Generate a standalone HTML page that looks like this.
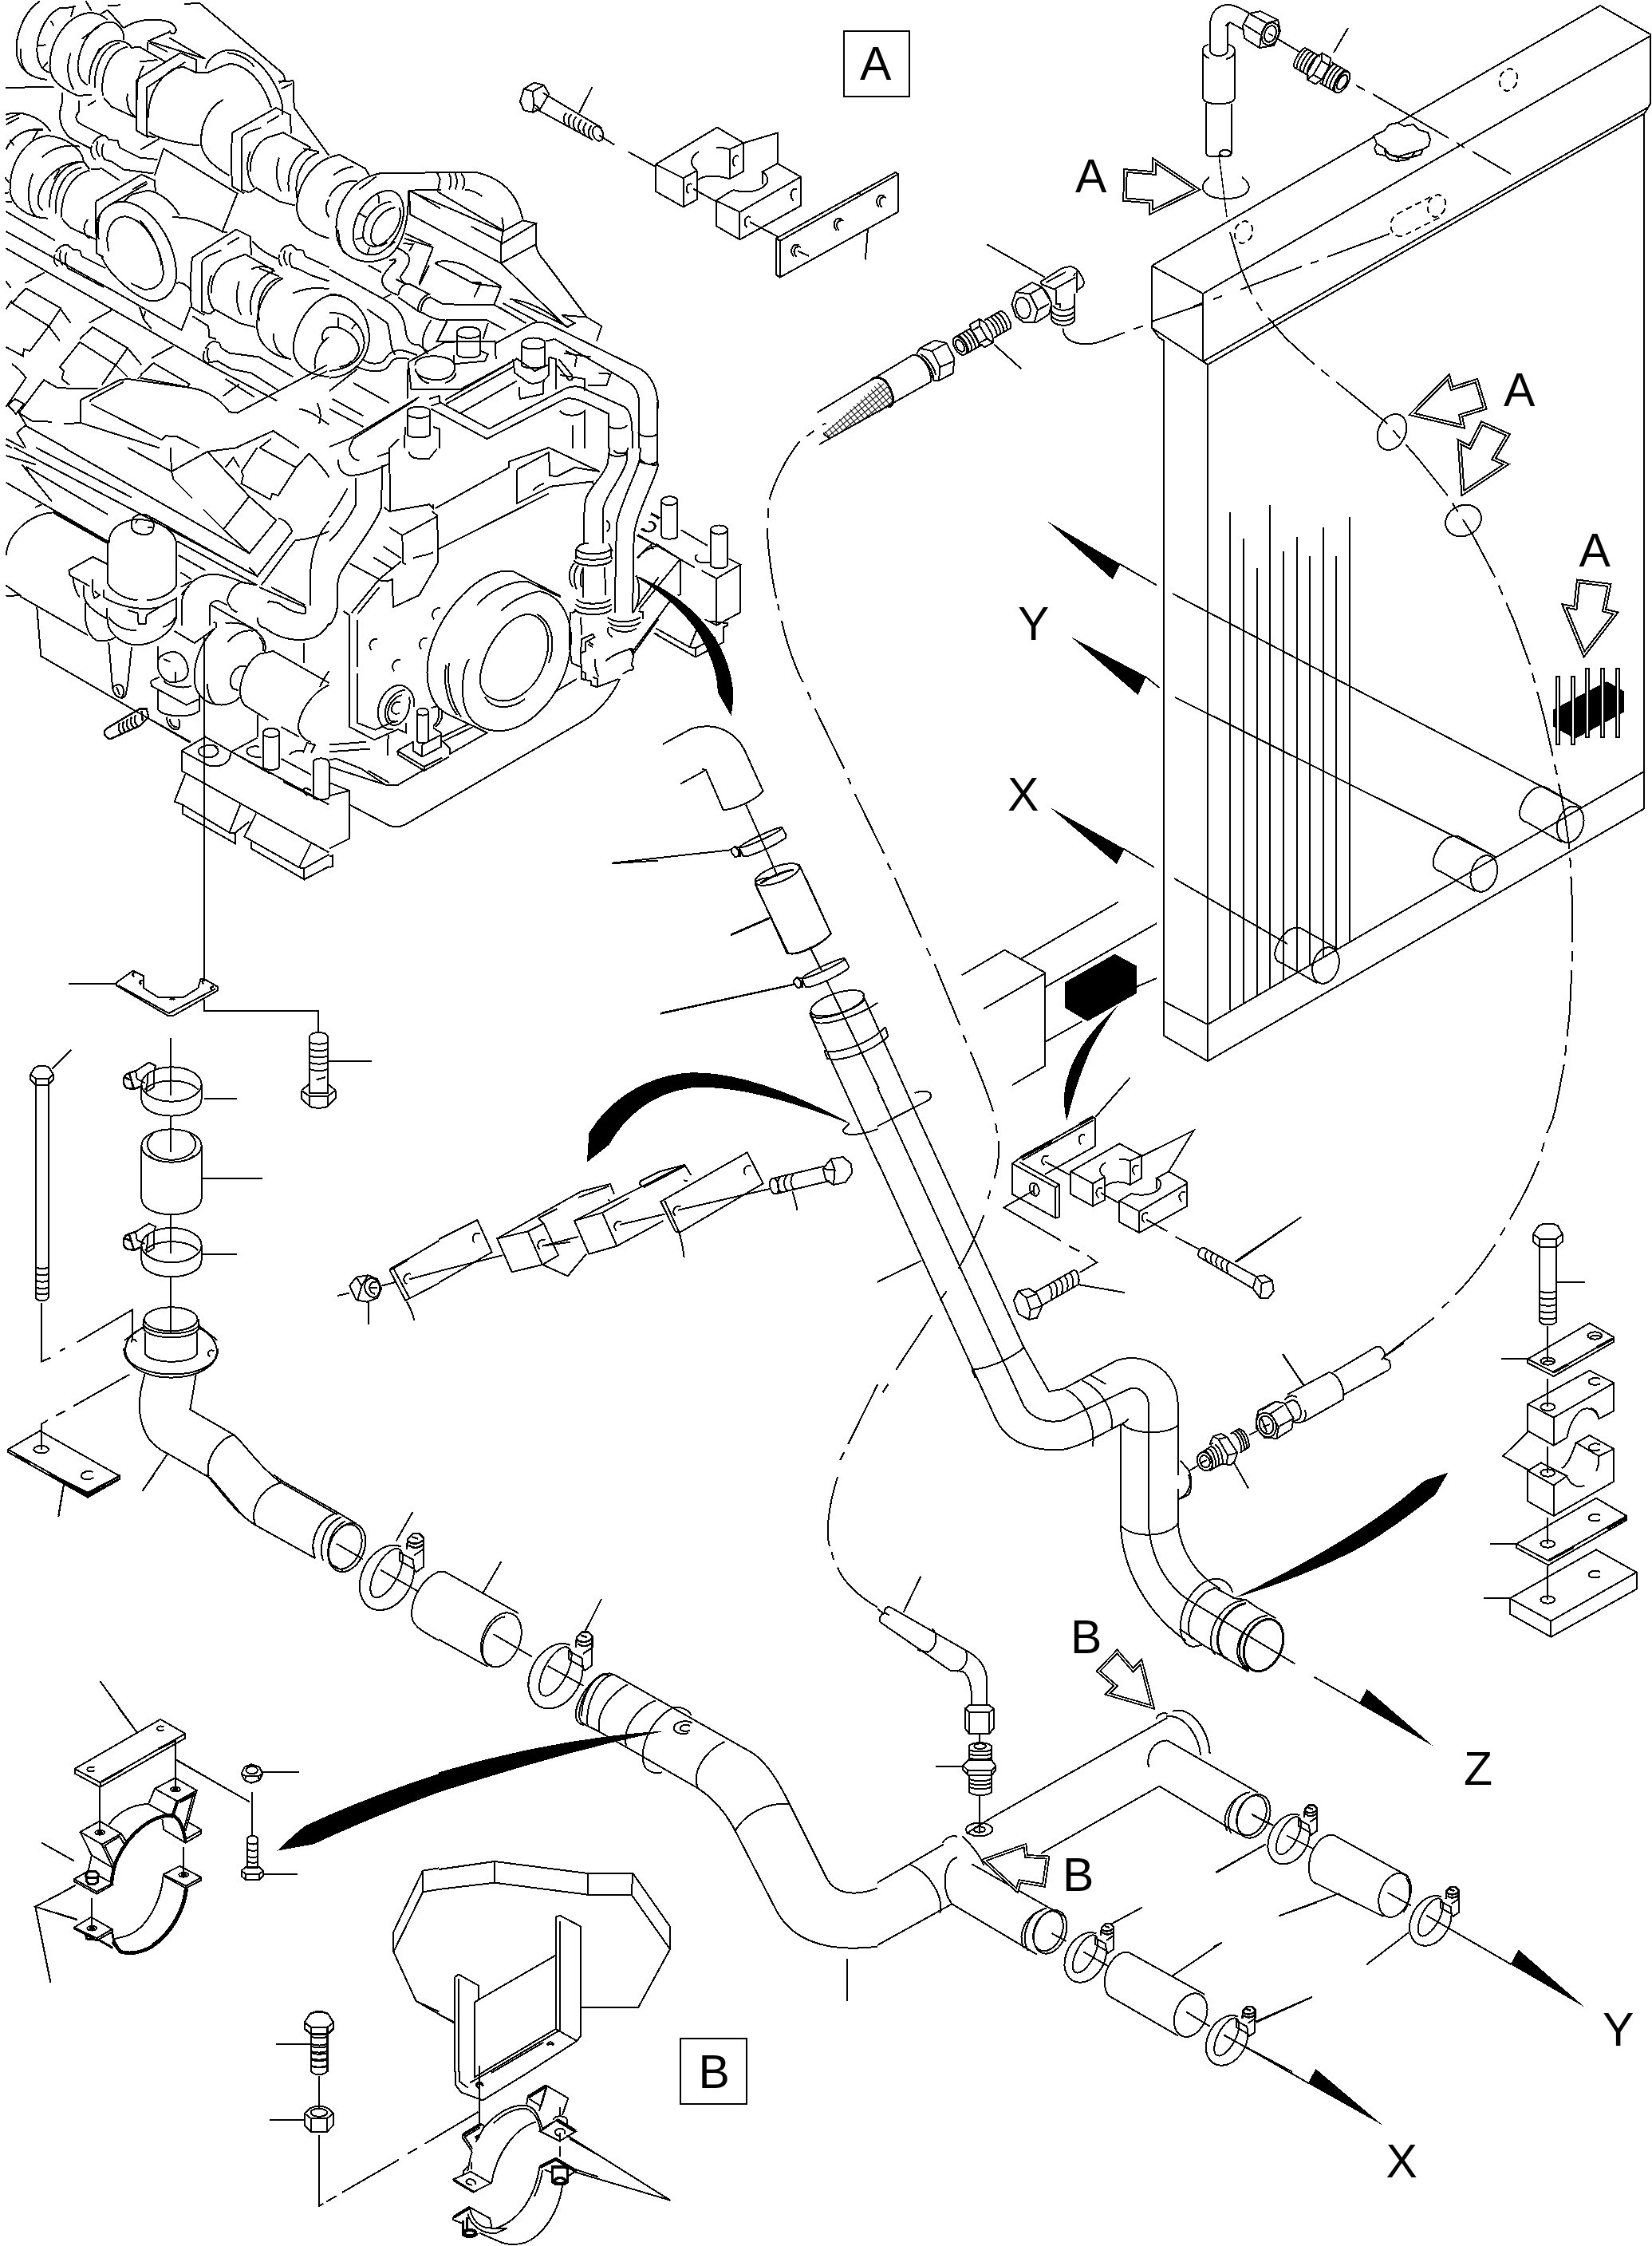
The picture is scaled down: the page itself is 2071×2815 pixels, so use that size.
<!DOCTYPE html>
<html><head><meta charset="utf-8"><title>Cooling piping diagram</title>
<style>
html,body{margin:0;padding:0;background:#fff;}
body{width:2071px;height:2815px;overflow:hidden;}
svg{display:block;shape-rendering:crispEdges;}
svg text{font-family:"Liberation Sans",sans-serif;fill:#000;stroke:none;}
svg path,svg ellipse,svg rect,svg circle,svg line,svg polyline,svg polygon{vector-effect:non-scaling-stroke;}
.l{fill:none;stroke:#000;stroke-width:2;stroke-linecap:butt;stroke-linejoin:miter;}
.w{fill:#fff;stroke:#000;stroke-width:2;}
.k{fill:#000;stroke:none;}
</style></head><body>
<svg width="2071" height="2815" viewBox="0 0 2071 2815" fill="none" stroke="#000" stroke-width="2">
<defs>
<g id="clampD">
<path d="M14.5 -24.5 A24 33 28 1 0 27 -2"/>
<ellipse cx="0.5" cy="1" rx="11" ry="26" transform="rotate(28 0.5 1)"/>
<path d="M13 -19 L26 -12 L27 -3 L13 -11 Z M27 -3 L29 0 L36 -5 V-22 L27 -16"/>
<path d="M20 -22 L21 -32 L26 -37 H32 L36 -33 V-22 M21 -30 C25 -26 32 -27 36 -31 M22 -26 C26 -22 32 -23 36 -27 M25 -34 L31 -32" stroke-width="2.4"/>
</g>
</defs>

<!-- ===== radiator ===== -->
<g id="radiator">
<!-- top tank -->
<path d="M1444 333 L2006 7 L2069 43 L2069 130 L2061 143 L2061 1013"/>
<path d="M1444 333 L1508 368 L2069 45"/>
<path d="M1508 368 L1508 453 L2067 134"/>
<path d="M1444 333 L1444 411 L1508 453"/>
<path d="M1444 411 L1453 423 L1459 427 L1459 1298 L1514 1330 L2062 1013"/>
<path d="M1508 453 L1514 457 L2062 142"/>
<path d="M1514 457 L1514 1330"/>
<path d="M1459 1255 L1514 1284 L2061 967"/>
<!-- fins -->
<path d="M1542 642V1266 M1559 675V1257 M1576 712V1248 M1592 633V1238 M1609 691V1228 M1626 673V1218 M1642 697V1209 M1659 661V1199 M1675 697V1190 M1692 648V1180"/>
<!-- section lines -->
<path d="M1470 744 L1983 1012"/>
<path d="M1473 874 L1871 1072"/>
<path d="M1472 1101 L1614 1183"/>
</g>

<!-- ===== top-right hose elbow, nipple, cap, arrows ===== -->
<g id="topright">
<!-- elbow tube -->
<path d="M1517 57 V32 C1517 14 1528 6 1540 6 C1548 6 1556 11 1567 17"/>
<path d="M1539 58 V32 L1542 28 L1558 37"/>
<path d="M1536 33 L1540 29"/>
<!-- upper sleeve -->
<path d="M1508 62 C1508 58 1511 57 1515 56 M1540 56 C1545 57 1548 60 1548 63 M1508 62 V123 C1510 133 1546 133 1548 123 V63"/>
<path d="M1508 66 C1510 70 1512 72 1516 73 M1548 66 C1546 70 1542 73 1537 74"/>
<path d="M1517 57 V64 C1520 72 1536 72 1539 64 V58"/>
<!-- lower tube -->
<path d="M1512 129 V190 C1512 194 1514 196 1518 196 H1538 C1542 196 1544 194 1544 190 V130"/>
<ellipse cx="1536" cy="192" rx="7.5" ry="4"/>
<path d="M1528 194 L1538 272" stroke-width="1.5"/>
<path d="M1516 222 C1498 236 1512 249 1536 249 C1562 249 1576 236 1557 222"/>
<!-- nut -->
<path d="M1558 32 L1566 17 L1580 14 L1602 25 L1605 39 L1597 57 L1579 60 L1560 48 Z"/>
<path d="M1566 17 L1588 29 L1602 25 M1588 29 L1581 44 L1579 60 M1581 44 L1560 31"/>
<ellipse cx="1592.5" cy="42.5" rx="10.5" ry="14.5" transform="rotate(20 1592.5 42.5)"/>
<ellipse cx="1592.5" cy="42.5" rx="7" ry="10.5" transform="rotate(20 1592.5 42.5)"/>
<path d="M1590 42 L1596 45"/>
<path d="M1597 46 L1629 65"/>
<!-- nipple -->
<g transform="translate(1629 72) rotate(30)">
<path d="M0 -14 H22 M0 14 H22 M0 -14 C-4 -10 -4 10 0 14"/>
<path d="M4 -14 C0 -8 0 8 4 14 M9 -14 C5 -8 5 8 9 14 M14 -14 C10 -8 10 8 14 14 M19 -14 C15 -8 15 8 19 14"/>
<path d="M22 -19 H34 L38 -10 V10 L34 19 H22 L18 10 V-10 Z M22 -19 L26 -10 V10 L22 19 M26 -10 H38 M26 10 H38"/>
<path d="M38 -15 H62 M38 15 H62"/>
<path d="M42 -15 C38 -8 38 8 42 15 M47 -15 C43 -8 43 8 47 15 M52 -15 C48 -8 48 8 52 15 M57 -15 C53 -8 53 8 57 15"/>
<ellipse cx="62" cy="0" rx="7" ry="15"/>
<ellipse cx="62" cy="0" rx="5" ry="10"/>
</g>
<path d="M1690 35 L1672 66"/>
<path d="M1700 107 L1711 113 M1721 118 L1816 173 M1826 179 L1836 185 M1846 190 L1894 218"/>
<!-- cap -->
<path fill="#fff" d="M1722 170 L1735 164 L1742 156 L1752 154 L1760 158 L1772 156 L1779 163 L1790 166 L1793 175 L1791 183 L1784 187 L1781 194 L1770 196 L1765 200 L1752 202 L1742 200 L1737 195 L1726 193 L1723 186 L1726 180 Z"/>
<path d="M1726 180 L1736 186 L1742 194 L1754 196 L1764 193 L1774 190 L1784 187 M1736 186 L1737 195 M1754 196 L1752 202 M1774 190 L1770 196"/>
<path d="M1738 190 C1746 200 1772 200 1782 192"/>
<!-- dashed holes -->
<ellipse cx="1891" cy="100" rx="11" ry="14" transform="rotate(20 1891 100)" stroke-dasharray="8 5"/>
<ellipse cx="1559" cy="291" rx="11" ry="14" transform="rotate(20 1559 291)" stroke-dasharray="8 5"/>
<ellipse cx="1801" cy="258" rx="11" ry="14" transform="rotate(20 1801 258)" stroke-dasharray="8 5"/>
<path d="M1793 247 L1752 268 C1738 276 1742 298 1758 296 L1806 272" stroke-dasharray="8 5"/>
<!-- centreline into tank -->
<path d="M1496 384 L1507 380 M1521 375 L1532 371 M1555 363 L1632 334 M1643 330 L1653 327 M1664 322 L1742 293"/>
<path d="M1444 403 L1508 381"/>
</g>

<!-- ===== labels and hollow arrows (upper area) ===== -->
<g id="labelsA" font-size="59">
<rect x="1058" y="39" width="82" height="82"/>
<text x="1078" y="100">A</text>
<text x="1348" y="240.5">A</text>
<text x="1885" y="509">A</text>
<text x="1979.5" y="710">A</text>
<text x="1276" y="801.5">Y</text>
<text x="1263" y="1016">X</text>
</g>
<g id="hollowArrows" stroke-width="5.5" stroke-linejoin="miter">
<path id="ha1" d="M1411 214 L1447 217 L1447 201.5 L1501 237.5 L1443 266 L1443 253 L1410 250 Z"/>
<path id="ha2" d="M1770 519 L1816 472.5 L1820 487 L1851 477 L1861.5 511.5 L1831 521 L1834 534.5 Z"/>
<path id="ha3" d="M1858 530.5 L1890.5 545 L1872.5 575 L1888 582 L1834 618 L1829.5 554 L1842.5 560.5 Z"/>
<path id="ha4" d="M1978.5 728.5 L2017.5 733.5 L2011 765 L2025.5 768.5 L1986 820 L1961 759.5 L1975 762 Z"/>
</g>
<g stroke="#fff" stroke-width="1.5" stroke-linejoin="miter">
<use href="#ha1"/><use href="#ha2"/><use href="#ha3"/><use href="#ha4"/>
</g>
<!-- section arrowheads near radiator -->
<g id="secArrowsTop">
<path class="k" d="M1312.5 653 L1404.5 707 L1395 726.5 Z"/>
<path d="M1404 707 L1450 733.5"/>
<path class="k" d="M1343 798.5 L1437 848 L1426.5 871 Z"/>
<path d="M1436 848 L1453.5 862"/>
<path class="k" d="M1316.5 1012 L1409.5 1064 L1400 1083 Z"/>
<path d="M1409 1064 L1447 1087"/>
</g>
<!-- circles on hose centreline -->
<ellipse cx="1745" cy="541.5" rx="17" ry="23.5" transform="rotate(25 1745 541.5)"/>
<ellipse cx="1834.5" cy="652.5" rx="23" ry="19" transform="rotate(-25 1834.5 652.5)"/>
<!-- black louver symbol -->
<path class="k" d="M1947 889.5 L2014.5 854 L2036 866.5 L2036 892.5 L1974.5 926 L1947 910.5 Z"/>
<g fill="#fff" stroke-width="2">
<rect x="1951" y="848" width="4" height="85"/><rect x="1970" y="848" width="4" height="85"/>
<rect x="1988" y="838" width="4" height="86"/><rect x="2007" y="838" width="4" height="86"/><rect x="2025.5" y="838" width="4" height="86"/>
</g>

<!-- ===== hose w/ braid, nipple, elbow near radiator top-left ===== -->
<defs>
<pattern id="braid" width="6" height="6" patternUnits="userSpaceOnUse" patternTransform="rotate(-40)">
<path d="M0 0H6 M0 0V6" stroke="#000" stroke-width="2" fill="none"/>
</pattern>
</defs>
<g id="hoseA">
<path d="M1024.5 517 L1144 445 M1027 557 L1167 478.5"/>
<path d="M1144 445 C1156 444 1168 462 1167 478.5"/>
<path d="M1032 543 L1058.5 520 L1085 495 L1102.5 478.5 C1110 479 1120 492 1119 504 L1114.5 510 L1040 550.5 Z" fill="url(#braid)" stroke="none"/>
<path d="M1092 476 C1098 471 1108 473 1113 482 C1118 490 1121 500 1119 505 C1118 509 1116 510 1113 510" stroke-width="3"/>
<path d="M1032 543 L1040 550"/>
<path d="M1031 532.5 L1035.5 530.5 M1011.5 546.5 L1020.5 540 M1000 555 L1003 553.5"/>
<!-- hex nut on hose -->
<path d="M1149 444 L1153 436.5 L1172 426.5 L1186.5 430 L1196.5 449.5 L1194.5 468 L1177 477 L1170 476.5 L1168 466.5"/>
<path d="M1153 436.5 L1168.5 440 L1186.5 430 M1168.5 440 L1178.5 460 L1196.5 452.5 M1178.5 460 L1177 477"/>
<path d="M1150 445 C1160 450 1171 466 1170 476 M1154 444 C1163 448 1172 462 1173 470"/>
<!-- nipple -->
<g transform="translate(1203.5 433.5) rotate(-30)">
<ellipse cx="0" cy="0" rx="7" ry="12.5"/>
<ellipse cx="0" cy="0" rx="4.5" ry="8"/>
<path d="M0 -12.5 H24 M0 12.5 H26"/>
<path d="M5 -12.5 C9 -7 9 7 5 12.5 M10 -12.5 C14 -7 14 7 10 12.5 M15 -12.5 C19 -7 19 7 15 12.5 M20 -12.5 C24 -7 24 7 20 12.5"/>
<path d="M24 -17 H38 L42 -9 V9 L38 17 H26 L22 9 V-9 Z M38 -17 L34 -9 V9 L38 17 M22 -9 H34 M22 9 H34"/>
<path d="M42 -12.5 H66 C71 -8 71 8 66 12.5 H42"/>
<path d="M46 -12.5 C50 -7 50 7 46 12.5 M51 -12.5 C55 -7 55 7 51 12.5 M56 -12.5 C60 -7 60 7 56 12.5 M61 -12.5 C65 -7 65 7 61 12.5"/>
</g>
<path d="M1246 431.5 L1280.5 462.5"/>
<!-- hex nut of elbow -->
<path d="M1268.5 381.5 L1273.5 366 L1294 354 L1306.5 360 L1318.5 380 L1315 394 L1298.5 404.5 L1283.5 404 L1273.5 396.5 Z"/>
<path d="M1273.5 366 L1291 368.5 L1306.5 360 M1291 368.5 L1301 388.5 L1315 381 M1301 388.5 L1296.5 404.5"/>
<ellipse cx="1282.5" cy="386" rx="9" ry="13.5" transform="rotate(-15 1282.5 386)"/>
<!-- elbow body -->
<path d="M1304 353.5 L1330 337 C1334 335 1340 334 1344 334.5 C1350 336 1356 344 1359 353 L1358 358.5 L1350 364"/>
<path d="M1306.5 356.5 L1321.5 362.5 L1348.5 347.5 M1311.5 354 L1336 341 M1304 353.5 L1306.5 356.5"/>
<path d="M1323.5 362.5 V381 M1346.5 368 V403 M1350 340 V367 M1348 342 L1346 346"/>
<path d="M1306.5 360 C1313 366 1318 376 1318.5 384"/>
<path d="M1318 384 V400 C1322 410 1342 410 1346.5 402 M1318 390 C1324 398 1340 398 1346.5 391 M1318 396 C1324 404 1340 404 1346.5 397 M1320 383 C1326 391 1340 390 1346.5 384 M1323 381 H1329 V386"/>
<path d="M1237.5 306.5 L1310 347.5"/>
<path d="M1332.5 411.5 C1333 425 1345 431 1363 431.5 C1380 431 1395 421 1410 417 M1421 412.5 L1433 408.5"/>
</g>

<!-- ===== clamp A assembly (bolt, two half blocks, plate) ===== -->
<g id="clampA" transform="translate(630 80) scale(0.31477)">
<!-- bolt -->
<path d="M70 150 L85 100 L125 75 L165 85 L185 120 L150 180 L120 193 L85 185 Z"/>
<path d="M85 100 L120 110 L165 85 M120 110 L125 160 L120 193 M125 160 L150 180"/>
<path d="M160 115 L395 255 M130 178 L360 303"/>
<ellipse cx="380" cy="278" rx="20" ry="30" transform="rotate(-20 380 278)"/>
<path d="M255 195 C240 210 240 225 250 240 M275 200 C260 215 258 235 270 250 M295 210 C280 225 278 245 290 262 M315 222 C300 237 298 257 310 272 M335 234 C320 249 318 269 330 284 M355 246 C340 261 338 281 350 296"/>
<path d="M357 93 L305 195"/>
<path d="M385 285 L445 322 M500 350 L610 410"/>
<!-- rear half block -->
<path d="M610 400 L855 253 L960 315 L960 428 L905 458 L905 340 L960 315"/>
<path d="M610 400 L720 455 L775 425 M720 455 V570 M610 400 V508 L720 570 L775 540 V425"/>
<path d="M782 350 C750 368 740 400 775 425 M778 462 C800 445 840 440 905 458 M852 333 C875 333 890 335 905 342"/>
<path d="M960 315 L1095 275 V400"/>
<path d="M755 480 C735 470 725 500 740 515 M940 368 C920 358 910 392 925 408"/>
<path d="M760 498 L850 548"/>
<!-- front half block -->
<path d="M850 545 L905 510 C915 500 925 503 940 507 C980 515 1040 505 1055 470 C1058 455 1050 440 1035 430 L1095 397 L1188 450 V565 L945 700 L850 645 Z"/>
<path d="M850 545 L945 590 L1188 450 M945 590 V700 M1035 430 V480"/>
<path d="M1172 500 C1150 490 1140 525 1158 545 M988 610 C966 600 956 635 974 652"/>
<path d="M985 630 L1100 690"/>
<!-- plate -->
<path d="M1090 695 L1565 432 L1575 438 V590 L1105 850 L1090 840 Z"/>
<path d="M1090 695 L1105 705 L1575 440 M1105 705 V850 M1400 522 L1420 515 L1428 520"/>
<path d="M1180 722 C1155 712 1140 745 1160 768 M1188 730 C1165 722 1152 748 1170 768 M1350 617 C1325 607 1310 640 1330 663 M1358 625 C1335 617 1322 643 1340 663 M1520 525 C1495 515 1480 548 1500 571 M1528 533 C1505 525 1492 551 1510 571"/>
<path d="M1175 745 L1220 765"/>
<path d="M1455 655 L1445 780"/>
</g>

<!-- ===== tile 1100,1100 : box, black block, clamp bracket, bolts, pipe bend ===== -->
<g id="midright" transform="translate(1100 1100) scale(0.333333)">
<!-- support box -->
<path d="M317 367 L478 272 L630 357 V708 L507 780"/>
<path d="M540 305 L905 92 M400 493 L630 360 M630 412 L1050 172 M630 618 L770 540 M975 410 L1050 378"/>
<path class="k" d="M706 393 L893 287 L975 332 V435 L790 540 L706 490 Z"/>
<path class="k" d="M905 480 C850 530 760 620 725 720 C695 800 698 860 712 915 C730 840 760 740 800 650 C830 590 870 530 905 480 Z"/>
<!-- bracket -->
<path d="M535 1055 L810 900 L818 905 V1010 L630 1115"/>
<path d="M545 1062 L812 912" />
<path d="M760 928 L812 899" stroke-width="4"/>
<path d="M540 1052 L655 990" stroke-width="4"/>
<path d="M507 1075 L535 1055 M507 1075 V1190 L670 1280 L685 1275 V1155 L535 1070 M670 1165 V1280 M507 1075 L670 1165 L685 1155"/>
<ellipse cx="590" cy="1172" rx="17" ry="25" transform="rotate(-20 590 1172)"/>
<path d="M597 1150 C585 1160 583 1180 592 1192"/>
<path d="M780 968 C760 960 750 985 765 1003 M643 1048 C620 1040 610 1068 628 1082"/>
<path d="M820 900 L950 752"/>
<path d="M590 1175 L475 1240 L690 1365 M720 1385 L760 1405 M790 1420 L825 1447 L760 1485"/>
<!-- half block 1 -->
<path d="M727 1105 L910 1000 L993 1045 V1130 L950 1155 V1065 L993 1045"/>
<path d="M727 1105 L810 1150 L855 1125 M810 1150 V1235 M727 1105 V1190 L810 1235 L855 1212 V1125"/>
<path d="M858 1072 C830 1085 832 1112 855 1125 M858 1160 C880 1140 920 1140 950 1155 M910 1058 C925 1058 940 1060 950 1066"/>
<path d="M845 1168 C825 1160 815 1188 832 1203 M982 1083 C962 1075 952 1103 969 1118"/>
<path d="M993 1048 L1190 950 L1095 1105"/>
<!-- half block 2 -->
<path d="M910 1215 L955 1188 C1000 1200 1060 1190 1066 1155 C1066 1142 1060 1135 1050 1130 L1095 1105 L1165 1145 V1235 L985 1335 L910 1295 Z"/>
<path d="M910 1215 L985 1255 L1165 1150 M985 1255 V1335 M1050 1130 V1170"/>
<path d="M1017 1262 C997 1254 987 1282 1004 1297 M1157 1183 C1137 1175 1127 1203 1144 1218"/>
<path d="M630 1068 L727 1120 M840 1185 L910 1225 M1010 1285 L1090 1330 M1120 1350 L1215 1400"/>
<!-- bolt right -->
<path d="M1225 1390 L1425 1500 M1208 1425 L1412 1545"/>
<path d="M1225 1390 C1208 1395 1203 1415 1210 1428 M1245 1400 C1232 1410 1230 1425 1238 1440 M1265 1411 C1252 1421 1250 1436 1258 1451 M1285 1422 C1272 1432 1270 1447 1278 1462 M1305 1433 C1292 1443 1290 1458 1298 1473 M1325 1444 C1312 1454 1310 1469 1318 1484"/>
<path d="M1412 1545 L1425 1500 L1455 1495 L1485 1515 L1490 1555 L1470 1580 L1440 1582 Z M1425 1500 L1445 1525 L1485 1515 M1445 1525 L1440 1582"/>
<path d="M1350 1445 L1595 1275"/>
<!-- bolt left -->
<path d="M590 1560 L740 1475 M615 1610 L755 1530"/>
<path d="M740 1475 C755 1480 762 1510 755 1530 M720 1486 C735 1495 740 1520 733 1542 M700 1497 C715 1506 720 1531 713 1553 M680 1508 C695 1517 700 1542 693 1564 M660 1519 C675 1528 680 1553 673 1575 M640 1530 C655 1539 660 1564 653 1586"/>
<path d="M512 1590 L530 1555 L570 1545 L600 1565 L620 1610 L600 1655 L570 1662 L530 1640 Z M530 1555 L560 1580 L600 1565 M560 1580 L575 1625 L620 1610 M575 1625 L570 1662"/>
<path d="M755 1530 L930 1560"/>
<!-- pipe long edges -->
<path d="M-55 440 L150 896 L550 1765 L645 1932 L700 1922"/>
<path d="M0 790 L550 1985 C580 2035 640 2055 700 2040 L940 1925"/>
<path d="M0 1065 L445 2035 C480 2110 560 2160 700 2150 C760 2140 850 2090 915 2055"/>
<path d="M355 1850 C420 1845 500 1810 550 1768 M355 1850 L368 1880"/>
<!-- S bend -->
<path d="M700 1922 L900 1815 C1000 1780 1130 1850 1130 1980 V2246"/>
<path d="M940 1925 C980 1905 1020 1940 1020 1985 V2246 M915 2246 V2060 L945 2035"/>
<path d="M710 1925 C780 1960 820 2060 810 2140 M770 1890 C850 1930 890 2010 880 2070 M800 1870 L860 1905"/>
<path d="M920 2050 C940 2090 1080 2100 1130 2060"/>
<!-- ellipse around pipe (arrow target) -->
<path d="M0 935 L195 835 C215 805 180 795 140 810"/>
<path d="M0 1520 L165 1440"/>
<!-- fitting at bottom right -->
<path d="M1525 1795 L1605 1910"/>
<!-- hose centreline (dash-dot) -->
<path d="M65 0 L165 225 M185 265 L200 295 M215 325 L310 555 M322 590 L335 620 M350 655 C390 750 425 840 435 880 M445 925 L450 960 M455 990 C460 1040 452 1090 440 1130 M425 1175 L415 1210 M400 1270 C375 1340 340 1410 305 1470 M260 1555 L235 1590 M205 1645 L70 1850 M40 1905 L20 1935" stroke-width="2"/>
</g>

<!-- ===== tile 1521,1400 : hose end, curved arrow, clamp stack ===== -->
<g id="rightstack" transform="translate(1521 1400) scale(0.333333)">
<!-- hose w/ collar -->
<path d="M80 545 L332 375"/>
<path d="M650 895 L830 755 M860 718 L885 695 M910 668 C970 610 1020 540 1060 480 M1080 445 L1098 415 M1115 385 C1160 310 1200 230 1225 165 M1235 130 L1245 95 M1255 60 L1280 0" stroke-width="2"/>
<!-- black curved arrow -->
<path class="k" d="M70 1812 C300 1705 520 1580 680 1460 C740 1415 780 1375 800 1365 L883 1337 L835 1420 C790 1455 700 1530 560 1615 C420 1690 250 1758 70 1812 Z"/>
<!-- bolt -->
<path d="M1203 440 L1225 408 C1245 398 1275 398 1295 408 L1313 440 V468 L1290 490 H1228 L1203 468 Z M1203 440 L1228 458 H1290 L1313 440 M1228 458 V490 M1290 458 V490"/>
<path d="M1228 490 V770 C1240 785 1278 785 1290 770 V490"/>
<path d="M1228 655 C1245 662 1275 662 1290 655 M1228 680 C1245 687 1275 687 1290 680 M1228 705 C1245 712 1275 712 1290 705 M1228 730 C1245 737 1275 737 1290 730 M1228 755 C1245 762 1275 762 1290 755"/>
<path d="M1290 620 H1398"/>
<path d="M1258 785 V918 M1258 985 V1090 M1258 1240 V1338 M1258 1505 V1605 M1258 1690 V1815"/>
<!-- plate 1 -->
<path d="M1183 910 L1415 775 L1507 828 V845 L1280 975 L1183 925 Z M1183 910 L1280 960 L1507 830"/>
<ellipse cx="1258" cy="918" rx="27" ry="14"/><ellipse cx="1435" cy="822" rx="27" ry="14"/>
<path d="M1240 925 C1250 915 1270 915 1280 922 M1417 829 C1427 819 1447 819 1457 826"/>
<path d="M1280 959 L1335 930 M1440 868 L1500 835" stroke-width="3.5"/>
<path d="M1082 910 H1183"/>
<!-- upper block -->
<path d="M1183 1080 L1415 953 L1507 1000 V1105 L1450 1135 C1440 1095 1400 1085 1375 1110 C1345 1140 1335 1180 1330 1205 L1280 1235 L1183 1180 Z"/>
<path d="M1183 1080 L1280 1130 L1507 1000 M1280 1130 V1235 M1420 1095 C1440 1100 1448 1120 1450 1135"/>
<ellipse cx="1258" cy="1090" rx="27" ry="14"/>
<path d="M1455 985 C1435 975 1410 985 1412 998 C1415 1008 1440 1010 1455 1003"/>
<path d="M1183 1185 L1090 1275 L1190 1330"/>
<!-- lower block -->
<path d="M1183 1330 L1233 1300 L1330 1350 L1280 1385 Z M1280 1385 V1500 M1183 1330 V1445 L1280 1500 L1507 1370 V1248 L1415 1197 L1365 1225 L1450 1275 L1507 1248"/>
<path d="M1450 1275 C1452 1295 1448 1315 1440 1332 M1365 1225 C1350 1260 1340 1300 1310 1322 M1330 1352 C1345 1385 1375 1398 1395 1385"/>
<ellipse cx="1258" cy="1338" rx="27" ry="14"/>
<path d="M1455 1232 C1435 1222 1410 1232 1412 1245 C1415 1255 1440 1257 1455 1250"/>
<!-- plate 2 -->
<path d="M1140 1605 L1440 1433 L1555 1500 V1515 L1260 1685 L1140 1620 Z M1140 1605 L1260 1668 L1555 1500"/>
<ellipse cx="1258" cy="1605" rx="27" ry="14"/>
<path d="M1455 1497 C1435 1487 1410 1497 1412 1510 C1415 1520 1440 1522 1455 1515"/>
<path d="M1262 1667 L1355 1617 M1480 1548 L1550 1508" stroke-width="3.5"/>
<path d="M1040 1605 H1140"/>
<!-- base block -->
<path d="M1115 1810 L1440 1627 L1592 1712 V1775 L1270 1955 L1115 1868 Z M1115 1810 L1270 1895 L1592 1712 M1270 1895 V1955"/>
<ellipse cx="1258" cy="1815" rx="27" ry="14"/>
<path d="M1455 1710 C1435 1700 1410 1710 1412 1723 C1415 1733 1440 1735 1455 1728"/>
<path d="M1018 1810 H1115"/>
</g>

<!-- ===== tile 1100,1848 : T pipe, hose elbow/nipple, B arrows, sleeves ===== -->
<g id="botright1" transform="translate(1100 1848) scale(0.333333)">
<!-- vertical pipe to lower-right pipe end -->
<path d="M915 0 V190 C950 240 1090 240 1130 185 V55 M1020 0 V190 M1170 0 C1185 40 1170 75 1130 95"/>
<path d="M915 190 C920 350 1010 520 1160 625 M1020 190 C1030 330 1100 430 1175 475 L1570 712 M1130 185 C1140 290 1200 380 1290 430"/>
<!-- hose with elbow to nipple -->
<path d="M50 500 L330 660 C390 690 412 730 412 780 V870 M10 555 L275 738 L320 740 C345 755 355 790 355 870"/>
<path d="M50 500 C35 495 25 505 28 520 L45 530 M28 522 C10 525 5 545 10 555"/>
<path d="M205 580 C230 600 225 650 190 668 L150 660 M330 660 C345 690 335 725 300 740"/>
<path d="M330 880 L345 868 H420 L437 880 V955 L420 975 H345 L330 955 Z M330 880 L345 895 H420 L437 880 M345 895 V975 M420 895 V975"/>
<path d="M383 975 V1010 M383 1205 V1345 M218 1098 H322 M163 383 L97 520 M0 505 L25 525"/>
<path d="M345 1020 C360 1005 410 1005 428 1020 V1075 H345 Z M345 1035 C365 1045 410 1045 428 1035 M345 1050 C365 1060 410 1060 428 1050 M345 1065 C365 1075 410 1075 428 1065"/>
<ellipse cx="386" cy="1022" rx="22" ry="10"/>
<path d="M322 1095 L340 1075 H430 L445 1095 V1112 L430 1130 H340 L322 1112 Z M322 1095 L340 1112 H430 L445 1095 M340 1112 V1130 M430 1112 V1130"/>
<path d="M345 1130 V1195 C365 1210 410 1210 428 1195 V1130 M345 1145 C365 1155 410 1155 428 1145 M345 1160 C365 1170 410 1170 428 1160 M345 1175 C365 1185 410 1185 428 1175"/>
<ellipse cx="383" cy="1335" rx="50" ry="25"/><ellipse cx="383" cy="1335" rx="22" ry="11"/>
<!-- T pipe upper run -->
<path d="M430 1290 L1090 915 M615 1425 L1060 1172"/>
<path d="M1048 920 C1055 900 1075 893 1090 900 M1110 890 C1180 870 1245 960 1250 1050 M1085 910 C1160 900 1210 990 1215 1055"/>
<path d="M1090 1000 L1430 1195 M1060 1172 L1365 1355 M1090 1000 C1040 1000 1010 1050 1020 1100"/>
<ellipse cx="1415" cy="1285" rx="58" ry="85" transform="rotate(22 1415 1285)"/>
<ellipse cx="1407" cy="1282" rx="52" ry="78" transform="rotate(22 1407 1282)"/>
<path d="M1400 1195 C1340 1200 1300 1290 1330 1350 M1385 1200 C1325 1220 1290 1290 1315 1340"/>
<path d="M1410 1280 L1490 1320 M1275 1497 L1460 1390"/>
<!-- main pipe from left and junction -->
<path d="M0 1535 L250 1390 M0 1770 L280 1615 L600 1805 M120 1465 C200 1500 250 1590 235 1650"/>
<path d="M245 1385 C255 1365 285 1355 300 1362 M320 1360 C350 1390 385 1430 400 1470 M300 1440 C260 1450 240 1520 265 1590 L280 1615 M355 1465 L700 1660"/>
<path d="M335 1350 L430 1290"/>
<ellipse cx="650" cy="1720" rx="58" ry="85" transform="rotate(22 650 1720)"/>
<ellipse cx="642" cy="1717" rx="52" ry="78" transform="rotate(22 642 1717)"/>
<path d="M635 1632 C575 1640 535 1725 565 1790 M620 1638 C560 1655 525 1725 550 1780"/>
<!-- sleeve -->
<path d="M655 1725 L710 1755 M775 1795 L870 1850 M1160 2020 L1250 2075 M1305 2110 L1560 2246"/>
<path d="M945 1797 L1230 1955 M870 1960 L1130 2110 M945 1797 C900 1790 850 1850 855 1920 C858 1945 865 1955 870 1960"/>
<ellipse cx="1178" cy="2033" rx="58" ry="85" transform="rotate(22 1178 2033)"/>
<path d="M1110 1885 L1295 1760 M880 1690 L997 1627 M1425 2060 L1635 1965 M1510 1660 L1651 1610"/>
<use href="#clampD" transform="translate(780 1800) scale(3)"/>
<use href="#clampD" transform="translate(1312 2112) scale(3)"/>
<use href="#clampD" transform="translate(1545 1355) scale(3)"/>
</g>
<!-- B labels and arrows -->
<text x="1342" y="2071.5" font-size="59">B</text>
<text x="1332" y="2369.5" font-size="59">B</text>
<g stroke-width="5" stroke-linejoin="miter">
<path id="hb1" d="M1377 2094.5 L1400.5 2070 L1420.5 2093 L1430.5 2083 L1445 2139.5 L1388.5 2123 L1398.5 2113 Z"/>
<path id="hb2" d="M1233.5 2331.5 L1285 2313 L1286.5 2326.5 L1313.5 2328 L1308.5 2363 L1278.5 2358 L1275 2369.5 Z"/>
</g>
<g stroke="#fff" stroke-width="1.4"><use href="#hb1"/><use href="#hb2"/></g>

<!-- ===== tile 1521,2067 : X Y Z arrows, sleeve, clamps ===== -->
<g id="botright2" transform="translate(1521 2067) scale(0.333333)">
<path d="M380 105 L555 205"/>
<path class="k" d="M578 150 L828 365 L548 205 Z"/>
<path d="M455 700 L735 855 M375 875 L640 1005 M455 700 C410 690 360 750 360 820 C360 850 368 868 375 875"/>
<ellipse cx="683" cy="925" rx="56" ry="86" transform="rotate(22 683 925)"/>
<path d="M725 860 C745 880 745 950 715 990"/>
<use href="#clampD" transform="translate(815 1005) scale(3)"/>
<path d="M145 620 L215 660 M275 700 L375 750 M655 915 L745 965 M800 1000 L1120 1185"/>
<path class="k" d="M1148 1130 L1398 1347 L1118 1185 Z"/>
<path d="M10 838 L195 735 M247 1003 L475 918 M575 1187 L735 1065 M0 1120 L30 1105 M160 1400 L370 1308"/>
<path d="M40 1450 L360 1633"/>
<path class="k" d="M385 1578 L637 1790 L357 1633 Z"/>
</g>
<g font-size="59">
<text x="1835" y="2237">Z</text>
<text x="2009" y="2563.5">Y</text>
<text x="1737.5" y="2728.5">X</text>
</g>

<!-- ===== tile 550,1848 : lower pipe middle, shield, U bracket ===== -->
<g id="botmid" transform="translate(550 1848) scale(0.333333)">
<path d="M0 367 H25 L300 522 M0 620 L185 723"/>
<ellipse cx="235" cy="622" rx="70" ry="106" transform="rotate(22 235 622)"/>
<path d="M250 535 C200 540 160 610 165 670 C168 700 180 715 200 718"/>
<path d="M235 328 L165 448 M612 468 L548 595"/>
<use href="#clampD" transform="translate(437 737) scale(3.9)"/>
<path d="M205 600 L350 685 M410 720 L545 795"/>
<!-- pipe -->
<path d="M655 750 C600 735 520 830 515 900 C515 925 530 945 548 940 M640 752 C590 745 530 840 528 905 C528 925 540 940 555 942 M625 748 C580 760 535 840 538 910 M548 940 L600 965" />
<path d="M655 752 C600 765 550 860 560 945"/>
<path d="M655 750 L1185 1050 C1250 1100 1290 1180 1320 1240 L1460 1520 C1490 1575 1560 1590 1651 1555"/>
<path d="M600 965 L975 1180 C1050 1230 1090 1290 1115 1340 L1270 1640 C1330 1750 1450 1800 1651 1775"/>
<path d="M710 790 C640 830 590 900 605 965 M815 850 C740 880 690 960 705 1020 M875 880 C790 930 750 1040 775 1100 C790 1120 820 1127 840 1120 M880 878 C910 870 940 885 950 905 M1075 1005 C1000 1040 950 1120 975 1180 M1320 1240 C1230 1230 1150 1280 1115 1340"/>
<path d="M955 935 C930 920 890 930 885 950 C880 972 915 980 940 972 M945 945 C930 938 910 942 908 955 C908 966 930 968 945 962"/>
<path class="k" d="M838 965 C600 980 300 1030 0 1120 V1195 C300 1100 600 1012 838 968 Z"/>
<path d="M1500 10 C1465 120 1455 220 1470 270 M1477 290 L1485 320 M1500 350 C1530 420 1600 470 1651 500" stroke-width="2"/>
<path d="M1535 1820 V1980"/>
<!-- shield -->
<path d="M0 1485 L210 1455 L560 1500 H730 L870 1700 V1785 L750 2005 H535"/>
<path d="M0 1560 L210 1535 L560 1580 H725 L870 1785 M210 1455 V1535 M560 1500 V1580 M730 1500 L725 1580"/>
<!-- U bracket -->
<path d="M440 1665 L455 1658 L535 1700 V2110 L520 2130 L340 2246 M440 1665 V2085 L168 2246 M455 1680 V2090 L190 2246 M440 2085 L520 2130"/>
<path d="M60 1890 L75 1880 L150 1922 V1975 L135 1985 V2246 M60 1890 V2246 M75 1895 V2246 M150 1975 L440 1808 M0 2030 L60 2060"/>
<path d="M410 2148 C412 2138 428 2138 430 2148"/>
</g>
<rect x="853" y="2555" width="83" height="82"/>
<text x="875.5" y="2617" font-size="59">B</text>

<!-- ===== band clamp assembly (left, y 2140-2460) ===== -->
<g id="clampB1" transform="translate(70 2140) scale(0.14249)">
<path d="M165 540 L920 105 L1140 230 V270 L390 700 L165 580 Z M165 540 L390 660 L1140 230 M390 660 V700"/>
<path d="M340 530 C300 515 265 535 280 555 C295 570 325 565 340 555 M950 170 C910 155 880 175 895 195 C910 210 940 205 950 195"/>
<path d="M400 655 L585 550 M900 365 L1060 285" stroke-width="3"/>
<path d="M550 0 L710 215 M385 700 V1100 M1050 300 V720 M1060 460 L1544 740"/>
<!-- upper half -->
<path d="M870 715 L1050 620 L1240 730 L1070 825 Z M870 715 L815 850 L1030 970 M1240 730 L1230 760 L1140 1090"/>
<path d="M1070 825 L1030 945 M1225 760 L1085 830" stroke-width="4"/>
<path d="M1205 775 L1125 1080"/>
<ellipse cx="1052" cy="720" rx="42" ry="20"/><ellipse cx="1052" cy="722" rx="18" ry="9"/>
<path d="M815 850 C650 850 520 950 465 1035"/>
<path d="M1030 950 C850 940 650 1100 540 1330 C510 1400 495 1470 490 1560" stroke-width="4.5"/>
<path d="M1030 950 C1080 970 1120 1040 1140 1180" stroke-width="4.5"/>
<path d="M935 980 L950 1075 L1140 1190 L1280 1110 V1075 L1165 1010 M1140 1190 V1160 L1280 1080"/>
<path d="M215 1095 L385 1000 L575 1110 L405 1205 Z M215 1095 L315 1300 L500 1410 M405 1205 L500 1410 M575 1110 L620 1180 M430 1215 L560 1135 L600 1200 M430 1215 L515 1390 M315 1300 L285 1440"/>
<ellipse cx="388" cy="1100" rx="42" ry="20"/><ellipse cx="388" cy="1102" rx="18" ry="9"/>
<path d="M160 1510 L285 1440 M375 1480 L480 1535 L500 1560 L360 1640 L160 1530 V1510 L360 1620 L500 1545 M360 1620 V1640"/>
<path d="M265 1470 L285 1440 H350 L375 1470 L365 1540 L340 1555 H290 L270 1530 Z M270 1490 C300 1505 345 1505 370 1490" stroke-width="3"/>
<!-- lower half -->
<path d="M945 1470 L1090 1395 L1280 1495 V1520 L1145 1590 L945 1480 Z M945 1470 L1145 1570 L1280 1495 M1145 1570 V1590"/>
<ellipse cx="1125" cy="1472" rx="42" ry="20"/><ellipse cx="1125" cy="1474" rx="18" ry="9"/>
<path d="M945 1480 C930 1700 800 1950 620 2010 L520 2035"/>
<path d="M1150 1590 C1130 1800 1000 2000 850 2100 C750 2160 650 2170 570 2150 L500 2060" stroke-width="4.5"/>
<path d="M1135 1600 C1115 1800 990 1990 845 2085"/>
<path d="M160 1935 L310 1845 L495 1950 V1975 L360 2050 L160 1945 Z M160 1935 L360 2030 L495 1950 M360 2030 V2050"/>
<ellipse cx="318" cy="1942" rx="42" ry="20"/><ellipse cx="318" cy="1944" rx="18" ry="9"/>
<path d="M265 2000 L270 2035 L370 2045 M495 1975 L510 2050 L570 2150 M380 2045 L500 2115" stroke-width="3"/>
<path d="M1123 1225 V1470 M315 1675 V1940 M0 1260 L160 1350 M175 1560 L0 1660 M0 1805 L185 1865"/>
</g>

<!-- ===== tile 0,1848 : pipe end, clamp, nut, bolt, arrow ===== -->
<g id="botleft" transform="translate(0 1848) scale(0.333333)">
<path d="M185 0 L330 80 L450 15 V0 M195 0 L330 68 L450 5 M240 40 L220 160 M535 62 L580 0"/>
<path d="M1030 0 C1050 20 1070 30 1080 35 L1265 140 M775 0 C830 60 880 140 960 190 L1185 315 M1060 30 C980 50 940 130 960 190"/>
<ellipse cx="1305" cy="275" rx="65" ry="95" transform="rotate(22 1305 275)"/>
<ellipse cx="1298" cy="272" rx="58" ry="87" transform="rotate(22 1298 272)"/>
<path d="M1270 145 C1200 160 1160 250 1185 315 M1285 160 C1225 180 1195 260 1215 325 M1300 175 C1250 195 1220 270 1240 335 L1290 362 M1265 140 L1340 185"/>
<path d="M1265 260 L1365 318 M1430 358 L1570 438 M1553 140 L1490 250"/>
<use href="#clampD" transform="translate(1452 367) scale(3.9)"/>
<path d="M1651 365 C1590 390 1540 470 1550 540 C1555 565 1570 580 1651 625"/>
<path class="k" d="M1042 1415 C1080 1380 1120 1340 1150 1320 C1300 1250 1480 1180 1651 1125 V1195 C1500 1250 1330 1320 1180 1390 Z"/>
<!-- nut -->
<path d="M908 1125 L920 1100 L945 1090 L975 1100 L988 1125 L975 1150 L945 1160 L920 1150 Z M908 1125 L925 1135 H970 L988 1125 M925 1135 L920 1150 M970 1135 L975 1150"/>
<ellipse cx="947" cy="1112" rx="22" ry="14"/>
<path d="M988 1120 H1125 M948 1195 V1355 M665 1075 L940 1232"/>
<!-- small bolt -->
<path d="M930 1370 C935 1355 965 1355 970 1370 V1480 H930 Z M930 1385 C945 1392 960 1392 970 1385 M930 1410 C945 1417 960 1417 970 1410 M930 1435 C945 1442 960 1442 970 1435 M930 1455 C945 1462 960 1462 970 1455"/>
<path d="M908 1490 L925 1475 H975 L990 1490 V1510 L975 1525 H925 L908 1510 Z M908 1490 L925 1503 H975 L990 1490 M925 1503 V1525 M975 1503 V1525"/>
<path d="M990 1503 H1118"/>
<!-- big bolt -->
<path d="M1145 2060 L1165 2030 C1185 2018 1215 2018 1235 2030 L1255 2060 V2085 L1232 2105 H1170 L1145 2085 Z M1145 2060 L1170 2078 H1232 L1255 2060 M1170 2078 V2246 M1232 2078 V2246"/>
<path d="M1170 2150 C1185 2157 1215 2157 1232 2150 M1170 2175 C1185 2182 1215 2182 1232 2175 M1170 2200 C1185 2207 1215 2207 1232 2200 M1170 2225 C1185 2232 1215 2232 1232 2225"/>
<path d="M1040 2143 H1170"/>
<path d="M377 778 L515 970 M157 1385 L278 1453 M285 1545 L133 1625 L290 1675 M133 1625 L190 1910"/>
<!-- shield left -->
<path d="M1651 1480 L1590 1490 L1480 1720 V1795 L1565 1980 L1651 2020 M1590 1490 V1570 L1651 1560 M1590 1570 L1480 1795"/>
</g>

<!-- ===== band clamp B2 (bottom centre) ===== -->
<g id="clampB2" transform="translate(550 2600) scale(0.12107)">
<path d="M420 140 C380 120 380 85 420 85 C450 85 465 105 455 125" stroke-width="2.5"/>
<path d="M425 110 V520"/>
<!-- upper half -->
<path d="M245 630 L440 515 L475 535 L385 700 M245 630 L250 660 L345 800 M270 645 L430 550 M270 645 L350 770"/>
<path d="M250 625 L440 512" stroke-width="4"/>
<path d="M380 660 L420 640" stroke-width="5"/>
<path d="M480 540 C600 400 750 310 900 320 M570 505 C680 400 800 350 900 355 C960 370 1020 430 1045 540 L1050 590"/>
<path d="M345 800 C320 880 310 950 300 1000 M1010 490 C800 550 600 800 545 1130 M340 910 V985"/>
<path d="M920 240 L1115 115 L1340 245 L1280 420 M920 240 L910 310 M940 255 L1060 330 L1115 140 M1115 115 L1040 380 M900 320 C960 330 1010 380 1040 460 L1075 560 L1180 495"/>
<path d="M925 235 L1115 118" stroke-width="4.5"/>
<path d="M1050 590 L1225 470 L1420 590 L1250 690 Z"/>
<path d="M1225 470 L1420 590" stroke-width="4.5"/>
<path d="M1260 640 C1200 630 1180 570 1250 560 C1300 560 1320 590 1300 615 M1185 470 C1200 420 1310 420 1330 470 V530 M1255 340 V420"/>
<path d="M155 1085 L330 1005 L540 1125 L365 1215 Z M300 950 L255 1000 V1035 M155 1085 V1100 L365 1225"/>
<path d="M345 1145 C290 1140 260 1100 310 1085 C355 1080 395 1105 375 1140"/>
<!-- lower half -->
<path d="M1045 960 L1215 875 L1420 1000 L1330 1060 M1095 985 L1180 1020"/>
<path d="M1050 958 L1215 877 L1420 1000" stroke-width="4.5"/>
<path d="M1175 985 L1180 960 H1320 L1335 985 V1110 L1300 1135 H1210 L1175 1110 Z" stroke-width="3.5"/>
<ellipse cx="1255" cy="1100" rx="55" ry="30" stroke-width="3.5"/>
<path d="M1280 1150 C1250 1400 1100 1650 900 1740 C800 1770 700 1760 650 1740 L420 1640 M1045 960 C1000 1250 850 1500 600 1590 M1075 990 C1060 1100 1020 1200 990 1265"/>
<path d="M150 1480 L320 1375 L530 1490 L550 1590 M150 1480 V1505 L250 1545 M320 1375 C340 1500 420 1600 560 1590 L700 1590 M300 1440 C330 1560 450 1660 600 1640 L710 1590"/>
<path d="M155 1478 L320 1378" stroke-width="4"/>
<path d="M250 1510 V1650 C270 1690 380 1690 400 1640 M295 1480 V1600" stroke-width="3.5"/>
<ellipse cx="322" cy="1640" rx="60" ry="30" stroke-width="4"/>
<path d="M1255 600 V700 M1255 740 V850 M1355 665 L1652 835 M1420 985 L1652 1060"/>
</g>

<!-- ===== bottom strip 300,2400 ===== -->
<g id="botrow" transform="translate(300 2400) scale(0.363202)">
<path d="M610 297 L745 375"/>
<!-- U bracket bottom -->
<path d="M1000 542 L840 640 L765 612 L745 585 V540 M843 542 L812 560 V540 M862 542 L795 580 M760 540 V575 L790 597 M1050 440 L870 545"/>
<path d="M830 520 V575 M828 600 V725"/>
<path d="M822 595 C815 580 840 578 840 592"/>
<path d="M1062 450 C1062 435 1085 435 1085 450"/>
<!-- bolt -->
<path d="M225 372 L243 342 C262 330 290 330 307 342 L325 372 V392 L303 410 H247 L225 392 Z M225 372 L247 388 H303 L325 372 M247 388 V540 C260 555 290 555 303 540 V388"/>
<path d="M247 445 C262 452 290 452 303 445 M247 470 C262 477 290 477 303 470 M247 495 C262 502 290 502 303 495 M247 520 C262 527 290 527 303 520 M247 420 C262 427 290 427 303 420"/>
<path d="M128 445 H247 M275 555 V665 M105 707 H225"/>
<!-- nut -->
<path d="M225 685 L243 668 C262 658 290 658 307 668 L325 685 V725 L303 748 H247 L225 725 Z M225 685 L247 702 H303 L325 685 M247 702 V748 M303 702 V748"/>
<ellipse cx="275" cy="682" rx="28" ry="14"/>
<path d="M275 760 V1005 L290 996 M300 990 L335 970 M355 958 L550 845 M580 825 L615 805 M640 790 L825 680"/>
<path d="M1130 760 L1488 985 L1150 885"/>
</g>

<!-- ===== tile 0,1150 : left column stack ===== -->
<defs>
<g id="clampH">
<!-- horizontal ring clamp, centre of top ellipse at 0,0 ; units = zoom px (3x) -->
<ellipse cx="0" cy="0" rx="113" ry="65"/>
<path d="M-113 0 V55 C-113 140 113 140 113 55 V0"/>
<path d="M-100 20 C-60 -25 60 -25 100 20"/>
<path d="M-88 -40 L-95 35 M-65 -52 V10 L-88 25"/>
<path d="M-65 -52 L-60 -70 L-85 -82 L-135 -50 L-130 -20 L-100 -5"/>
<path d="M-135 -50 L-160 -42 C-185 -35 -188 5 -165 15 L-140 18 L-118 8 M-160 -42 C-150 -20 -150 0 -140 18 M-175 -25 L-150 -15" stroke-width="2.6"/>
</g>
</defs>
<g id="leftcol" transform="translate(0 1150) scale(0.333333)">
<path d="M768 -90 V240 M768 310 V350 H1198 V432"/>
<path d="M437 245 L500 200 L540 220 V265 L595 300 H690 L745 265 L755 230 L770 232 L818 260 V275 L650 370 L630 368 L437 255 Z M445 255 L635 360 L810 268"/>
<path d="M510 208 C498 205 495 218 505 222 M537 237 C525 234 522 247 532 251 M772 235 C760 232 757 245 767 249 M804 260 C792 257 789 270 799 274 M640 310 C642 302 654 302 656 310" stroke-width="2.4"/>
<path d="M257 248 H437 M643 452 V668 M643 750 V882 M643 1120 V1262 M643 1350 V1560"/>
<use href="#clampH" transform="translate(645 627)"/>
<use href="#clampH" transform="translate(645 1232)"/>
<path d="M768 680 H890 M762 982 H988 M762 1265 H890"/>
<!-- sleeve -->
<ellipse cx="645" cy="858" rx="113" ry="62"/>
<path d="M532 858 V1055 C532 1137 758 1137 758 1055 V858"/>
<path d="M575 815 C530 850 560 905 645 912 C730 905 760 850 715 815 M560 895 L575 905 M730 895 L715 905"/>
<!-- flange -->
<ellipse cx="643" cy="1510" rx="100" ry="45"/>
<path d="M540 1510 V1545 C560 1590 730 1590 748 1545 V1510 M538 1530 C560 1575 730 1575 750 1530 M545 1560 V1640 C570 1680 720 1680 742 1640 V1560"/>
<path d="M545 1535 L468 1590 M748 1535 L818 1590"/>
<path d="M535 1545 C470 1570 450 1640 500 1680 C580 1730 720 1730 790 1680 C840 1640 810 1570 750 1545"/>
<path d="M466 1620 C466 1680 540 1730 643 1730 C750 1730 822 1680 820 1620"/>
<path d="M495 1598 C490 1585 512 1583 512 1595 M805 1630 C785 1620 775 1640 790 1650"/>
<!-- pipe below flange -->
<path d="M545 1715 C520 1800 510 1880 560 1960 C590 2000 620 2010 635 2018 L795 2110 L910 2246 M737 1720 L715 1850 L880 1945 C930 1990 960 2050 1050 2120 L1270 2246"/>
<path d="M880 1945 C820 1960 770 2040 785 2100 M628 2020 L535 2157"/>
<!-- long bolt -->
<path d="M115 590 L130 565 C145 555 172 555 185 565 L200 590 V610 L182 630 H135 L115 610 Z M115 590 L135 606 H182 L200 590 M135 606 V1430 C145 1445 172 1445 182 1430 V606"/>
<path d="M135 1315 C150 1322 170 1322 182 1315 M135 1340 C150 1347 170 1347 182 1340 M135 1365 C150 1372 170 1372 182 1365 M135 1390 C150 1397 170 1397 182 1390 M135 1412 C150 1419 170 1419 182 1412"/>
<path d="M195 570 L268 497"/>
<path d="M155 1450 V1670 L190 1655 M225 1630 L245 1620 M290 1597 L497 1475 V1590"/>
<path d="M487 1718 L275 1838 M245 1855 L210 1873 M180 1890 L155 1905 V2000"/>
<!-- plate -->
<path d="M30 2000 L150 1930 L450 2100 V2112 L330 2180 L30 2010 Z M30 2000 L330 2168 L450 2100"/>
<ellipse cx="155" cy="2000" rx="28" ry="14"/>
<path d="M350 2085 C320 2075 295 2095 310 2108 C325 2118 345 2112 352 2105 M240 2130 L220 2246"/>
<path d="M60 2022 L110 2050 M240 2122 L330 2170" stroke-width="3.5"/>
<!-- bolt right -->
<path d="M1165 445 C1175 428 1222 428 1232 445 V660 H1165 Z M1165 470 C1185 478 1215 478 1232 470 M1165 495 C1185 503 1215 503 1232 495 M1165 520 C1185 528 1215 528 1232 520 M1165 545 C1185 553 1215 553 1232 545 M1165 570 C1185 578 1215 578 1232 570 M1190 610 L1225 600"/>
<path d="M1133 650 L1165 625 M1232 625 L1262 650 M1133 650 V680 L1165 710 C1180 718 1215 718 1232 710 L1262 680 V650 M1133 650 L1165 672 H1232 L1262 650 M1165 672 V710 M1232 672 V710"/>
<path d="M1237 540 H1398"/>
<!-- nut and plate right -->
<path d="M1315 1385 L1340 1352 L1385 1345 L1420 1360 L1435 1395 L1420 1430 L1380 1445 L1340 1438 Z M1340 1352 L1360 1385 L1345 1438 M1360 1385 L1385 1345"/>
<ellipse cx="1400" cy="1392" rx="28" ry="36" transform="rotate(-15 1400 1392)"/>
<path d="M1415 1370 C1385 1365 1380 1410 1410 1415 M1390 1392 H1420"/>
<path d="M1268 1422 L1315 1412 M1385 1445 V1530 M1435 1385 L1490 1370"/>
<path d="M1465 1325 L1651 1215 M1465 1325 L1525 1440 L1651 1375 M1480 1320 L1540 1430 M1540 1360 L1651 1330 M1545 1340 C1520 1335 1510 1365 1530 1378 M1530 1445 C1550 1480 1555 1500 1558 1515"/>
<path d="M1470 1322 L1530 1288" stroke-width="3.5"/>
</g>

<!-- ===== tile 550,1100 : clamp chain, big arrow, sleeve ===== -->
<g id="mid" transform="translate(550 1100) scale(0.333333)">
<path d="M1190 20 L1310 285 C1350 292 1440 252 1475 210 L1380 0 M1190 20 C1200 5 1230 0 1250 0 M1097 215 L1245 150"/>
<path d="M1395 260 L1440 350 M1460 390 L1655 792"/>
<path d="M833 510 L1340 400"/>
<ellipse cx="1500" cy="472" rx="105" ry="38" transform="rotate(-18 1500 472)"/>
<path d="M1400 520 C1430 545 1570 500 1600 460 M1398 505 L1410 540 C1440 565 1580 520 1651 470 M1395 510 L1651 1070"/>
<path d="M1450 650 C1500 665 1620 625 1680 562 M1460 680 C1510 695 1630 655 1690 597 M1450 650 L1462 682 M1680 562 L1690 597"/>
<path d="M1545 925 L1520 950 C1520 972 1580 972 1651 945"/>
<path class="k" d="M1545 922 C1300 790 1100 730 950 733 C800 740 650 820 565 960 L558 1070 L640 1005 C700 900 800 810 950 790 C1100 780 1300 830 1545 925 Z"/>
<!-- plate 1 -->
<path d="M835 1218 L1160 1033 L1220 1150 L905 1335 L890 1330 Z M850 1215 L905 1335 M905 1335 C915 1370 920 1400 923 1428"/>
<path d="M1175 1085 C1150 1078 1140 1105 1155 1118 M910 1237 C885 1230 875 1258 890 1272"/>
<!-- bolt -->
<path d="M1260 1130 L1450 1085 M1270 1188 L1470 1140"/>
<ellipse cx="1262" cy="1160" rx="16" ry="30" transform="rotate(-12 1262 1160)"/>
<path d="M1285 1125 C1270 1140 1270 1170 1290 1185 M1310 1120 C1295 1135 1295 1165 1315 1180 M1335 1114 C1320 1129 1320 1159 1340 1174"/>
<path d="M1445 1095 L1475 1058 L1520 1050 L1550 1075 L1555 1110 L1530 1145 L1485 1155 L1455 1135 Z M1475 1058 L1490 1100 L1485 1155 M1490 1100 L1445 1095"/>
<path d="M1330 1180 C1340 1210 1345 1230 1348 1250 M900 1250 L1245 1170"/>
<!-- block 2 -->
<path d="M510 1290 L925 1080 L950 1120 M510 1290 L615 1260 L670 1385 L565 1415 Z M670 1385 L845 1290 M615 1260 L715 1205 M760 1140 L830 1105 L925 1080 M770 1165 L925 1085 M760 1140 C750 1155 765 1165 775 1160 M920 1138 L935 1140 M635 1210 L645 1215"/>
<path d="M688 1293 C663 1286 653 1314 668 1328 M680 1305 L850 1265"/>
<!-- block 1 -->
<path d="M220 1357 L535 1180 L645 1152 L660 1190 M525 1203 L640 1160 M220 1357 L335 1330 L390 1455 L275 1483 Z M335 1330 L395 1300 L450 1420 L390 1455 M375 1280 L445 1245 M375 1280 L395 1300 M390 1455 L485 1498 L555 1415"/>
<path d="M400 1363 C375 1356 365 1384 380 1398 M390 1385 L525 1350 M390 1385 L495 1370"/>
<!-- plate 0 -->
<path d="M0 1360 L145 1287 L200 1408 L0 1523 M155 1338 C130 1331 120 1359 135 1373 M0 1480 L240 1420"/>
<path d="M1651 1905 L1540 2130 M1525 2160 L1510 2190" stroke-width="2"/>
</g>

<!-- ===== tile 700,650 : elbow hose, clamps, sleeve, arrow, dash-dot ===== -->
<g id="elbow" transform="translate(700 650) scale(0.333333)">
<path d="M393 848 L500 790 C600 760 670 810 700 870 L770 1025 C740 1060 660 1095 620 1095 L555 945 L460 997 M540 942 L555 945"/>
<path d="M705 1075 L825 1345"/>
<g id="ringS" transform="translate(764 1217) scale(3)">
<ellipse cx="-0.5" cy="-6" rx="29" ry="3" transform="rotate(-24.7 -0.5 -6)"/>
<path d="M26 -18 L31 -9 L30.3 -5.4 C18 3 0 12 -17 17.3 L-23 17.5 L-27.2 8.5"/>
<path d="M-37.5 8.5 L-34 5.5 L-27.3 6.7 L-26.7 17 L-33.3 18.5 L-37.5 12.7 Z M-34 5.5 L-29 10 L-28.5 17.5"/>
</g>
<use href="#ringS" transform="translate(235 492)"/>
<path d="M202 1295 L655 1245 M383 1862 L885 1752"/>
<!-- sleeve -->
<ellipse cx="823" cy="1338" rx="88" ry="30" transform="rotate(-20 823 1338)"/>
<path d="M760 1372 C790 1350 850 1325 885 1320" stroke-width="3"/>
<path d="M740 1375 L865 1635 C900 1645 990 1605 1025 1560 L905 1300 M648 1567 L795 1503"/>
<!-- arrow -->
<path class="k" d="M285 215 C400 250 520 340 590 450 C640 530 660 620 658 680 L650 742 L600 655 C600 580 570 500 520 420 C460 340 380 270 285 215 Z"/>
<!-- dash-dot hose centreline -->
<path d="M785 35 C790 150 810 260 820 300 M825 320 L830 345 M840 385 C860 480 900 580 920 615 M937 650 L950 680 M965 715 L1075 940 M1090 975 L1100 1000 M1115 1035 L1225 1260 M1238 1295 L1250 1320" stroke-width="2"/>
</g>

<!-- ===== radiator stubs and hose centreline A ===== -->
<g id="radstubs" transform="translate(1521 700) scale(0.333333)">
<g id="stub">
<ellipse cx="1343" cy="1000" rx="48" ry="70" transform="rotate(18 1343 1000)"/>
<path d="M1160 925 C1180 880 1210 855 1245 858 L1388 938 M1160 925 C1145 960 1150 985 1180 992 L1310 1066"/>
</g>
<use href="#stub" transform="translate(-325 185)"/>
<use href="#stub" transform="translate(-920 530)"/>
</g>
<path d="M1542 291 L1555 335 L1569 368 L1581 388 L1612 424 L1648 457 L1693 493 L1738 530 L1778 575 L1814 620 L1846 670 L1874 723 L1898 778 L1918 833 L1936 900 L1951 967 L1961 1017 L1968 1067 L1971 1133 L1971 1200 L1968 1267 L1961 1333 L1950 1390 L1947 1400" stroke-dasharray="83 11 13 11" stroke-linejoin="round"/>
<path d="M1002.5 553 C985 575 970 605 964.5 626.5 M962.5 637 V649"/>

<!-- ===== right hose fitting: nipple, nut, collar, hose (1480,1680 @5.9x) ===== -->
<g id="fittingR" transform="translate(1480 1680) scale(0.16949)">
<path d="M558 600 L575 520 L700 452 L770 465 L835 575 L822 655 L712 725 L620 718 L562 650 Z"/>
<path d="M600 515 L700 455 M660 545 L760 480 M720 640 L830 580 M710 725 L725 640 L665 540"/>
<ellipse cx="635" cy="625" rx="70" ry="92" transform="rotate(-20 635 625)"/>
<ellipse cx="635" cy="625" rx="50" ry="68" transform="rotate(-20 635 625)"/>
<path d="M600 580 L640 680 M610 640 L660 620"/>
<path d="M770 440 C790 410 830 400 860 420 M765 470 L830 440 L860 455 C890 490 900 540 880 580 L835 600 C860 615 900 610 915 590 C930 560 925 530 918 515"/>
<path d="M790 400 L1100 235 C1160 250 1215 340 1205 435 L915 600"/>
<path d="M1130 235 L1450 45 C1490 40 1510 80 1512 110 L1485 145 M1500 130 L1545 150 L1555 200 L1535 220 L1210 400"/>
<path d="M757 100 L910 335 M1500 125 L1652 20"/>
<!-- nipple -->
<ellipse cx="180" cy="895" rx="55" ry="70" transform="rotate(-25 180 895)"/>
<ellipse cx="180" cy="895" rx="35" ry="46" transform="rotate(-25 180 895)"/>
<path d="M150 905 L195 885 M140 840 L230 780 M210 965 L320 905"/>
<path d="M180 815 C215 830 240 900 235 950 M205 800 C240 815 265 885 260 935 M230 785 C265 800 290 870 285 920 M255 772 C290 787 315 855 310 905"/>
<path d="M215 770 L240 710 L300 690 L345 715 L420 830 L400 890 L370 920 L310 915 M240 710 L280 730 L345 715 M280 730 L350 850 L420 830 M350 850 L340 915 M215 770 L240 760"/>
<path d="M370 690 L430 655 C470 660 510 720 505 790 L440 830"/>
<path d="M385 680 C425 700 455 770 450 825 M405 668 C445 688 475 758 470 812 M420 660 C462 678 492 745 488 800"/>
<path d="M395 905 L503 1095 M505 700 L575 665 M60 965 L140 920 M0 890 L60 960 C85 1010 85 1100 60 1140 L0 1170"/>
</g>

<!-- ===== big pipe end (1440,1940 @5.9x) ===== -->
<g id="pipeendR" transform="translate(1440 1940) scale(0.16949)">
<ellipse cx="850" cy="720" rx="135" ry="200" transform="rotate(22 850 720)" stroke-width="3"/>
<path d="M880 500 C760 510 660 640 655 760 C655 820 690 880 740 910 M860 505 C745 520 675 640 670 760 C670 815 700 870 745 900"/>
<path d="M720 410 C600 430 510 560 510 690 C515 760 545 810 580 820" stroke-width="3"/>
<path d="M700 390 C560 400 460 560 460 690 C462 740 475 775 495 790"/>
<path d="M620 370 L720 385 L800 440 L940 520 M405 720 L740 915"/>
<path d="M490 300 C380 320 290 470 295 600 C298 640 310 665 325 675 M460 235 C330 270 230 450 235 600 C240 680 280 730 330 730 C360 730 385 720 400 715"/>
<path d="M460 235 C510 215 600 240 620 330"/>
<path d="M480 290 L640 375 M230 600 L405 720"/>
</g>

<!-- ===== engine tile A : 0,0 413x561 at 4x ===== -->
<g id="engA" transform="scale(0.25)">
<path d="M200 5 C120 60 70 180 85 280 C100 350 150 390 235 400 M105 245 C100 300 115 340 130 355"/>
<path d="M300 40 C220 80 170 200 190 290 C200 340 230 360 250 365 M380 30 C340 40 310 45 300 40 M370 35 L355 85 M255 105 L270 130 M185 230 L230 225 M215 340 L240 310 M430 5 L460 55"/>
<path d="M440 65 C340 80 250 200 250 330 C250 400 300 440 390 480 M440 65 C480 60 520 80 540 100 M505 70 L540 50 L620 140 M560 110 C600 120 625 160 620 200 M540 30 L605 25"/>
<path d="M410 195 L500 130 M355 265 C330 330 340 400 370 450 M560 110 C480 110 400 200 390 330 C390 390 420 420 440 425"/>
<path d="M575 205 C500 220 440 320 450 420 M600 215 C520 230 470 330 475 440 M640 235 C560 250 500 350 515 480 M500 240 L470 300 M575 205 C620 200 650 220 660 240"/>
<path d="M655 240 L700 235 L830 310 M520 490 L560 535 L680 590 M640 470 C630 520 650 570 680 585 M390 480 L460 475"/>
<path d="M685 400 L905 265 L985 300 V360 M685 400 V655 L745 690 M735 440 V680 L780 690 M735 440 L930 310 M740 210 V250 M740 205 L1030 295 M750 215 L840 260 M700 310 L790 300 M720 330 C690 380 680 440 690 500"/>
<path d="M870 345 L920 335 L985 365 L1040 365 C1100 340 1130 320 1160 320 C1250 330 1330 430 1360 540 M745 590 C740 500 780 400 870 345 M745 660 C800 700 900 720 1000 730 M1120 500 C1040 540 1000 640 1010 730 C1020 790 1080 840 1150 880"/>
<path d="M1030 345 C1040 290 1100 250 1160 250 C1260 260 1350 350 1400 470 C1420 520 1420 560 1415 575 M1140 265 C1200 270 1250 300 1275 335"/>
<path d="M925 20 L1000 15 L1420 370 L1430 400 L1400 415 M1395 410 L1470 405 L1475 540 L1650 780 M1410 445 L1465 420"/>
<path d="M620 140 C680 100 760 90 830 105 C870 115 890 140 880 160 C870 175 850 170 850 150 M850 160 L745 205 M850 190 L1030 295"/>
<path d="M1165 665 L1385 540 L1455 575 L1460 670 M1165 665 C1160 700 1160 900 1165 935 L1225 970 M1210 700 V950 L1250 965 M1210 700 C1215 680 1230 670 1250 660 L1310 640 M1340 615 L1400 580"/>
<path d="M1250 965 L1290 940 M1255 760 C1230 820 1240 900 1275 940 M1340 690 C1280 720 1250 800 1255 860 M1340 690 L1420 665 L1560 740 M1290 945 L1400 1010 L1480 1030"/>
<path d="M1560 740 C1480 770 1430 860 1450 960 M1600 765 C1520 790 1470 880 1490 990 M1520 745 L1600 760 M1400 790 C1380 850 1385 920 1410 960"/>
<path d="M1650 790 C1550 830 1480 950 1490 1060 C1500 1130 1560 1170 1650 1195 M1650 1000 C1630 1030 1630 1060 1650 1090"/>
<!-- row 2 -->
<path d="M30 575 C100 550 200 580 255 660 M30 600 L110 565 M30 625 L95 590 M30 440 L270 435"/>
<path d="M240 680 C140 690 50 800 50 950 C55 1030 130 1090 240 1095 M215 650 C130 640 60 680 30 750 M160 650 L215 650 M190 655 L165 700 M50 700 L70 730 M25 890 L45 915 M25 970 L45 965 M30 1010 L60 1012"/>
<path d="M240 680 C330 690 410 740 420 810 M165 870 C130 950 140 1050 180 1085 M420 810 C300 810 200 900 190 1000 C190 1030 200 1045 215 1055 M210 790 C260 740 340 720 400 735"/>
<path d="M390 815 C310 830 240 930 250 1040 M410 840 C330 855 270 950 280 1070 M450 855 C370 870 300 970 310 1090 M420 810 L450 850 M300 850 L270 900"/>
<path d="M455 850 L510 845 L600 905 M310 1095 L350 1140 L480 1200 M440 1100 C410 1140 420 1180 450 1195"/>
<path d="M480 1010 L710 875 L775 905 L780 960 M480 1010 L485 1270 L520 1290 M545 1030 L740 920 M665 950 L735 910 M500 1080 C490 1120 490 1160 495 1200"/>
<path d="M480 1170 C470 1080 540 1010 620 1010 C760 1030 880 1200 885 1380 C880 1460 830 1510 760 1510 C700 1500 560 1400 510 1290"/>
<path d="M545 1260 C520 1160 560 1090 625 1085 C720 1095 810 1230 820 1370 C815 1430 770 1455 720 1450 L655 1420 M700 1105 C760 1160 800 1250 810 1330"/>
<path d="M620 1010 L660 975 L740 955 C800 960 870 1020 900 1080 M865 1090 C950 1085 1030 1110 1120 1165 M885 1420 C910 1410 940 1430 960 1460"/>
<path d="M820 745 L1190 970 L1115 1160 M820 745 L775 880 M1115 1160 L1140 1165"/>
<path d="M465 720 C480 690 510 675 530 680 M460 730 C450 760 460 790 480 800 M490 710 C480 740 485 770 500 785 M520 720 C505 750 510 780 525 800 M530 680 L545 700 L590 705 L600 740 L700 790 L790 800 M525 800 L560 810 L620 850 L770 870"/>
<path d="M310 465 V520 C290 580 300 640 350 690 L455 745 M395 505 V560 C370 590 380 610 420 630 L520 680 M705 750 L800 695 M440 530 L480 505"/>
<path d="M965 1290 L1185 1150 L1255 1185 L1260 1280 M965 1290 C955 1330 955 1500 960 1540 L1025 1580 M1010 1320 V1560 L1050 1575 M1010 1320 C1015 1300 1030 1290 1050 1280 L1110 1255 M1140 1225 L1200 1190"/>
<path d="M1050 1575 L1085 1550 M1060 1380 C1035 1440 1040 1510 1075 1555 M1150 1305 C1090 1330 1055 1400 1060 1470 M1150 1305 L1230 1275 L1380 1360 M1085 1555 L1200 1620 L1280 1640"/>
<path d="M1370 1360 C1290 1390 1240 1480 1260 1580 M1410 1390 C1330 1410 1280 1500 1300 1610 M1300 1345 L1400 1385 M1200 1410 C1180 1470 1185 1540 1210 1580 M1260 1350 C1300 1330 1340 1335 1370 1350"/>
<path d="M1420 1395 C1340 1430 1280 1540 1290 1650 C1300 1730 1370 1790 1460 1800 M1470 1470 C1540 1440 1600 1440 1650 1450 M1650 1480 C1560 1510 1480 1620 1470 1740 C1470 1830 1540 1880 1650 1890 M1370 1670 C1370 1730 1400 1780 1440 1795 M1650 1690 C1600 1720 1570 1790 1580 1850 M1650 1640 C1620 1650 1610 1680 1620 1710"/>
<path d="M1405 1265 C1415 1240 1440 1225 1465 1230 M1400 1275 C1395 1300 1400 1325 1415 1335 M1430 1255 C1420 1285 1425 1310 1440 1330 M1460 1265 C1445 1290 1450 1320 1465 1340 M1465 1230 L1485 1250 L1520 1255 L1530 1285 L1650 1340 M1465 1340 L1500 1350 L1560 1380 L1650 1410 M1265 1210 C1300 1250 1350 1280 1400 1300"/>
<path d="M1030 1750 C1040 1725 1060 1710 1080 1712 M1025 1760 C1015 1790 1020 1810 1035 1820 M1045 1745 C1035 1775 1040 1795 1050 1810 M1080 1712 L1100 1720 L1110 1745 L1150 1770 L1300 1790 L1470 1890 M1035 1820 L1090 1810 L1160 1850 L1260 1870 L1400 1960"/>
<path d="M280 1265 C290 1240 315 1225 340 1228 M275 1275 C268 1300 272 1325 290 1335 M305 1255 C295 1285 300 1310 315 1330 M335 1265 C322 1290 326 1320 340 1345 M340 1228 L365 1250 L400 1255 L410 1285 L530 1345 M340 1345 L370 1360 L520 1440"/>
<path d="M30 1060 L275 1205 M30 1160 L590 1470 L910 1655 L955 1540 M30 1245 L1050 1830 L1390 2010 M965 1585 L1045 1635 L1050 1690 L1085 1700 M700 1540 L720 1600 L760 1650 M730 1560 L720 1590"/>
<path d="M130 1445 L305 1545 L245 1635 L60 1520 L130 1445 M30 1550 L60 1505 M245 1635 L300 1710 M300 1545 L355 1620 M245 1635 L150 1760 L120 1750 L115 1785 L30 1740"/>
<path d="M400 1700 L465 1640 L640 1745 L580 1830 L400 1715 M640 1745 L710 1830 M580 1830 L640 1890 M400 1715 L300 1840 L320 1860 L310 1900 L350 1930 M580 1830 L510 1930"/>
<path d="M705 1880 L770 1820 L950 1925 L940 1940 L705 1895 M690 1900 L710 1880 M125 1420 L225 1365 M445 1620 L560 1555 M760 1795 L870 1735 M1120 1985 L1200 1925 M1130 1900 L1275 1990"/>
<path d="M60 1825 C100 1850 120 1880 130 1895 L30 2040 M30 1410 L55 1445"/>
<path d="M405 2005 L600 1905 L640 1900 L960 1945 C1050 1960 1110 2010 1150 2065 L1190 2070 L1640 1830 M405 2005 V2120 L800 2246 M450 2015 C455 2000 470 1995 480 1990 L620 1915 M455 2025 L810 2205 L830 2185 L890 2190 L1000 2246 M405 2120 L320 2125"/>
<path d="M260 2115 L160 2110 L95 2070 L220 1905 L290 1945 L490 1950 M40 2030 L75 2000 L120 2025 L80 2075 Z M95 2070 L130 2130 L85 2170 L130 2246 M130 2135 L330 2246"/>
<path d="M1500 2050 C1560 2060 1610 2100 1650 2130 M1590 2020 C1610 2060 1610 2100 1600 2125 M1560 1900 L1640 1860 M1180 2246 L1370 2160 L1500 2246 M1300 2246 L1360 2200 M30 2200 L120 2246 M30 2230 L60 2246"/>
</g>

<!-- ===== engine tile B : 413,0 at 4x ===== -->
<g id="engB" transform="translate(413 0) scale(0.25)">
<path d="M0 790 L50 775 L180 845 L200 880 M20 880 C50 850 90 840 120 835 M0 985 C30 930 80 900 140 910"/>
<path d="M250 870 C100 900 10 1050 40 1200 C70 1300 180 1340 290 1290 C370 1240 400 1100 395 960"/>
<path d="M300 955 C200 960 110 1080 120 1200 C130 1270 190 1290 250 1270 C340 1220 390 1100 365 1010 C350 970 320 955 300 955 M310 1010 C230 1020 160 1100 170 1190 C180 1240 230 1245 270 1220 C340 1170 370 1090 350 1040 M330 1040 C260 1050 200 1130 210 1200 C220 1240 260 1240 290 1215"/>
<path d="M245 975 L250 1020 M150 1070 L185 1090 M130 1200 L175 1190 M200 1240 L190 1280 M300 1235 L330 1210 M45 1150 C45 1220 60 1250 75 1270 M150 950 L235 885"/>
<path d="M250 870 L540 865 H740 C850 890 940 960 970 1100 M395 955 L560 950 M540 865 L555 900 L545 950 M600 870 C615 900 610 930 600 950 M630 870 C645 900 640 930 630 950 M660 870 C685 895 680 930 665 950 M680 950 C720 955 750 970 765 985"/>
<path d="M395 955 L870 1160 L970 1105 M400 960 L405 1075 L860 1320 M870 1160 L860 1225 L1035 1120 L970 1105 M860 1225 V1320 L1035 1225 V1120 M865 1090 L875 1160 M430 970 L555 1045 M540 960 L870 1155 M710 1135 L870 1220"/>
<path d="M1035 1225 C1040 1260 1060 1290 1080 1310 L1290 1590 L1365 1635 L1340 1710 M860 1320 L1190 1640 L1230 1620 L1165 1580 L1290 1590 M905 1500 C1000 1510 1100 1560 1190 1640 M870 1520 L1040 1610 M860 1545 L985 1620 M930 1510 L1200 1640"/>
<path d="M530 1320 L720 1420 L860 1440 L825 1530 M500 1330 L450 1430 M520 1240 L450 1420 M375 1195 L520 1240 M380 1170 L510 1230 M530 1320 C560 1300 620 1310 680 1330 L860 1435 M590 1350 L680 1400 M710 1415 L760 1418 L725 1490 M370 1220 L420 1225 L400 1260"/>
<path d="M335 1305 C310 1330 270 1370 265 1395 C260 1440 290 1460 345 1480 M395 1280 C410 1310 390 1340 360 1380 C350 1400 370 1420 395 1425 M300 1305 L330 1300 L325 1325 M195 1330 L260 1365 M335 1240 C360 1250 380 1265 395 1280"/>
<path d="M345 1480 C350 1440 380 1415 405 1425 L500 1475 C470 1485 440 1520 445 1560 L345 1490 M460 1560 C460 1520 480 1495 505 1490 L570 1525 L830 1530 L890 1565 M445 1560 L470 1570 C520 1600 560 1610 600 1605 H790 L885 1655 M270 1495 L310 1475 M335 1400 L380 1425"/>
<path d="M0 1480 C100 1470 200 1560 200 1700 C190 1820 100 1890 0 1895 M0 1570 C80 1560 170 1620 175 1720 C170 1800 100 1850 0 1860 M0 1640 C60 1630 140 1680 150 1750 C140 1800 100 1830 50 1840 M45 1590 V1640 M135 1620 L110 1650 M0 1475 L60 1480 M110 1810 L80 1840"/>
<path d="M0 1350 L290 1510 C340 1540 370 1580 380 1640 C385 1700 400 1730 450 1730 L490 1760 M190 1550 L290 1620 C310 1680 300 1740 330 1780 M510 1605 C480 1650 460 1700 470 1740 C475 1760 485 1770 495 1775 M590 1610 L540 1710 H640"/>
<path d="M165 1800 C200 1830 260 1830 280 1800 C300 1760 340 1750 380 1760 L440 1780 M130 1835 C200 1870 280 1870 300 1830 C320 1790 350 1790 400 1800"/>
<path d="M0 1960 L140 1850 M0 2050 L170 2140 M120 1920 L300 2020 M15 2000 L170 2085"/>
<path d="M395 1815 L580 1715 L830 1710 L835 1800 M395 1815 L410 1950 L660 1950 L940 1800 M395 1815 L390 2000"/>
<path d="M430 1830 C430 1790 520 1770 600 1800 C640 1820 640 1860 600 1890 C540 1920 440 1900 430 1850 M440 1870 C450 1900 480 1920 500 1922 M580 1920 C610 1910 630 1890 635 1870"/>
<path d="M640 1665 C640 1630 755 1630 755 1665 V1775 C755 1800 640 1800 640 1775 Z M640 1680 C670 1700 730 1700 755 1680 M625 1780 V1825 L780 1810 L795 1775 L760 1760 M770 1700 L795 1620"/>
<path d="M965 1720 C965 1685 1080 1685 1080 1720 V1830 C1080 1850 965 1850 965 1830 Z M965 1735 C995 1755 1055 1755 1080 1735"/>
<path d="M920 1800 L930 1870 L1000 1920 C1040 1930 1080 1910 1100 1880 V1790 M935 1795 L1030 1860 L1095 1830 M950 1940 L955 2000 L1070 1975 L1075 1900"/>
<path d="M835 1720 L1020 1620 C1060 1610 1100 1620 1130 1640 L1560 1850 C1620 1890 1645 1950 1650 2050 M1130 1700 L1487 1908 C1530 1930 1552 1970 1552 2018 V2246 M1085 1710 L1130 1700"/>
<path d="M1175 1770 L1310 1790 M1185 1760 L1240 1785 M1240 1790 L1230 1840 M1350 1870 L1410 1875 L1390 1930 H1295"/>
<path d="M1150 1800 L1215 1880 C1225 1900 1215 1910 1200 1905 L1140 1830 M1100 1790 L1135 1800 V1950 M1155 1880 L1280 1900 V1960"/>
<path d="M580 2005 L940 1800 M585 2025 L920 1840 M100 2200 L450 1990 M0 2240 L100 2200"/>
<path d="M560 2020 L800 2150 L1190 1945 C1230 1930 1270 1940 1300 1960 L1480 2040 C1510 2060 1520 2100 1520 2246 M510 2050 L790 2200 L1180 2000 C1220 1990 1250 2000 1400 2075 V2246 M650 2075 L940 1910"/>
<path d="M390 2065 C390 2030 505 2030 505 2065 V2175 C505 2200 390 2200 390 2175 Z M390 2080 C420 2100 480 2100 505 2080 M375 2246 L380 2140 M520 2140 L550 2150 V2246 M500 2000 L550 1985 L555 2020 L510 2035"/>
<path d="M1155 2060 C1180 2090 1250 2090 1280 2060 V2246 M1220 2130 V2246 M100 2246 L120 2200 L440 2000 M300 2246 L350 2200"/>
</g>

<!-- ===== engine tile C : 0,561 at 4x ===== -->
<g id="engC" transform="translate(0 561) scale(0.25)">
<path d="M30 175 L550 475 M130 95 L540 335 M760 350 L1240 620 M110 85 L260 270 M130 95 L150 140 M30 40 L180 85 M70 0 L700 330 L1290 645 M320 0 L1250 530 M180 0 L660 250 M640 0 L860 120 L1040 20 M855 0 L860 120 L870 160 L965 255 M890 470 L1290 690 M895 540 L1030 615 M905 625 L960 660 M175 300 L210 285"/>
<path d="M270 325 L545 480" stroke-width="3.5"/>
<path d="M275 325 C150 330 40 430 30 540 M30 690 C40 700 60 710 100 740 L30 745 M100 745 L440 940 M185 800 L205 1045 L955 1480"/>
<path d="M545 480 C545 400 620 360 700 360 C800 365 885 420 885 490 V690 C860 740 780 765 735 765 M690 765 C620 760 560 720 540 680 V480"/>
<path d="M660 395 C650 350 690 330 720 335 C760 340 775 370 770 400 C770 430 740 440 710 435 C680 430 660 420 660 395 M690 360 L680 380 M740 400 H765"/>
<path d="M345 615 L465 548 L540 585 M345 615 L350 640 L450 695 M365 650 C370 700 390 740 400 750 M465 660 C460 700 465 740 475 755 L500 740 L475 720 M520 710 V750"/>
<path d="M420 690 C410 760 430 800 540 860 M520 750 C600 800 720 820 800 800 L885 755 V850 C860 940 760 990 680 990 C620 985 570 950 545 900 C540 880 535 830 535 805 M690 830 L695 885 H730 L735 840 L800 800 M640 815 L690 830"/>
<path d="M430 780 C420 850 430 930 480 965 C520 975 560 965 580 950 M545 850 C580 900 640 920 685 915 M815 900 C850 890 870 870 880 850"/>
<path d="M545 975 L565 1210 C580 1260 620 1265 630 1240 L640 1190 L660 1000 M565 1210 C570 1190 600 1180 615 1200 C625 1220 620 1245 610 1250 M585 1200 L600 1240"/>
<path d="M525 1420 C520 1440 535 1460 555 1460 L600 1440 L700 1395 L745 1350 L735 1310 L700 1310 L590 1375 L540 1405 Z M600 1380 C590 1400 595 1425 610 1435 M640 1360 C630 1380 635 1405 650 1415 M680 1340 C670 1360 675 1385 690 1395 M710 1320 L715 1370 M620 1372 C612 1392 616 1415 630 1425 M660 1350 C652 1370 656 1393 670 1403" stroke-width="2.4"/>
<path d="M740 1355 L955 1475"/>
<path d="M790 1080 C790 1040 850 1020 880 1025 C930 1040 950 1100 940 1140 C930 1170 880 1180 850 1175 C810 1160 790 1120 790 1080 M820 1060 L855 1075 M880 1125 V1175 M755 1170 L800 1150 M755 1170 L760 1195 L935 1290 L1000 1260 V1230 M790 1215 V1310 C810 1350 950 1360 1000 1320 V1265 M820 1170 C850 1200 920 1210 960 1195"/>
<path d="M835 1350 C840 1400 870 1420 895 1410 C905 1390 900 1370 895 1360 M850 1360 C855 1390 875 1405 890 1400 M790 995 V1075"/>
<path d="M1022 950 V2246"/>
<path d="M910 890 V780 C920 690 990 635 1070 635 C1120 635 1180 660 1230 680 M1050 890 V800 C1055 775 1075 765 1100 770 L1140 790 M1060 790 L1290 920 M875 920 L975 980 L1080 905 M1070 875 L1085 880 V905 M905 700 L960 670 M910 740 C920 720 935 705 950 695"/>
<path d="M1140 770 C1145 720 1180 680 1215 675 L1290 690 M1140 770 C1150 800 1170 820 1190 825 M1300 700 L1530 800 V830 C1500 835 1450 820 1400 780 L1350 770 L1340 780 M1360 700 L1530 790"/>
<path d="M1290 850 C1290 880 1300 900 1330 905 C1400 960 1500 980 1580 950 C1620 930 1640 900 1650 880 M1650 370 C1600 420 1560 520 1555 650 V790 M1480 465 C1550 460 1600 440 1650 420 M1310 690 L1480 465 M1395 355 C1430 360 1455 390 1465 420 L1290 645 L1250 600"/>
<path d="M1040 20 L1195 0 M1040 20 L1250 245 L1120 410 L1020 310 M1250 245 L1385 365 L1250 530 L1120 410 M1130 100 L1170 50 L1200 100 M1290 0 L1210 120 L1220 140 L1210 180 L1355 260 L1365 230 L1395 240 L1485 100 L1550 30 M1485 100 L1300 0 M1550 30 C1600 80 1640 130 1650 150"/>
<path d="M1080 905 C1000 980 960 1100 980 1200 C1000 1260 1050 1290 1110 1290 C1150 1290 1190 1270 1200 1250 M1130 880 C1200 870 1290 900 1325 970 C1335 1000 1330 1020 1325 1030 M1140 975 C1180 930 1230 910 1270 920 M1040 1185 C1040 1240 1060 1275 1080 1285 M1300 950 C1320 970 1325 1000 1320 1020"/>
<path d="M1325 1030 C1280 1030 1220 1100 1205 1200 C1200 1260 1220 1290 1240 1300 L1345 1365 M1325 1030 L1370 1020 L1650 1180 M1240 1100 C1200 1080 1160 1120 1155 1170 C1155 1200 1170 1215 1195 1215"/>
<path d="M1650 1190 C1560 1230 1500 1330 1495 1400 C1500 1440 1530 1470 1560 1475 M1650 1120 C1630 1150 1610 1180 1605 1200 M1525 980 V1080 M1290 1340 V1450 M1410 1400 L1500 1450"/>
<path d="M910 1520 L1030 1450 L1160 1525 L1290 1455 M910 1520 V1620 L1650 2030 M910 1520 L1020 1580 C1060 1610 1130 1600 1150 1560 L1160 1525 L1355 1635 M1170 1530 L1650 1790"/>
<path d="M1090 1500 C1050 1480 990 1500 995 1525 C1000 1550 1050 1560 1080 1545 C1100 1530 1100 1510 1075 1500 M1300 1500 C1260 1490 1230 1510 1240 1530 C1250 1550 1290 1555 1310 1550"/>
<path d="M1320 1430 C1320 1400 1400 1400 1400 1430 V1600 C1400 1620 1320 1620 1320 1600 Z M1320 1440 C1340 1455 1380 1455 1400 1440 M1570 1580 C1570 1550 1650 1550 1650 1580 V1750 C1650 1770 1570 1770 1570 1750 Z"/>
<path d="M1420 1675 L1570 1750 M1560 1720 C1520 1690 1510 1720 1540 1745 M1520 1530 L1540 1480 L1580 1490 L1560 1530 M1450 1540 C1470 1520 1500 1515 1520 1520 M1410 1560 L1560 1640"/>
<path d="M930 1635 L875 1775 L915 1790 L1150 1930 L1205 1790 M915 1790 V1835 L1180 1985 V1930 L1250 1875 M1150 1930 L1180 1935 M1285 1835 L1225 1950 L1500 2105 L1560 1985 M1260 1975 V2010 L1525 2165 V2110 L1650 2040 M1500 2105 L1530 2110 M1525 2165 L1650 2100"/>
</g>

<!-- ===== engine tile D : 413,561 at 4x ===== -->
<g id="engD" transform="translate(413 561) scale(0.25)">
<path d="M880 620 C760 620 560 800 500 1030 C470 1180 510 1300 600 1340 L730 1400"/>
<path d="M1050 720 C1170 740 1240 880 1200 1060 C1160 1250 1000 1420 850 1420 C780 1420 720 1390 690 1330 C650 1240 670 1100 700 1060"/>
<path d="M1000 835 C1090 850 1120 960 1080 1080 C1040 1200 950 1270 870 1270 C800 1265 750 1230 755 1150 C780 980 900 840 1000 835 M780 1250 C820 1320 920 1310 980 1260 M1040 835 C1110 870 1140 970 1100 1080"/>
<path d="M880 620 H920 L1160 745 M990 670 L1160 750 M740 790 C800 720 900 670 990 670 M860 820 C920 760 1000 730 1050 720 M585 1090 C570 1180 590 1280 640 1340 M600 1080 C585 1180 610 1280 660 1350"/>
<path d="M140 865 V1100 M140 1130 V1380 L230 1415 L330 1370 M100 840 V1400 L225 1465 L350 1410 M100 840 L70 820 M140 835 L250 700 M110 830 L245 665 L290 670 L315 660 L320 800 L450 740 L545 575 V510 L1100 230"/>
<path d="M545 510 L540 340 L515 320 M365 440 L540 345 M365 440 L370 580 L385 585 M300 400 L365 440 M270 495 L360 555 M220 550 L320 610 M100 580 L250 660 L360 570 M420 555 C450 540 480 545 520 525"/>
<path d="M275 300 L300 320 L500 285 L520 305 V285 M530 305 L900 100 V70 L1100 0 M940 110 V280 L1110 195 L1320 170 L1325 195 M940 110 L1100 25 L1105 140 L1140 145 L1230 100 L1355 120 M1100 0 L1355 120 M1020 215 C1040 195 1060 185 1075 180"/>
<path d="M300 0 L305 320 M265 90 L260 300 C250 340 200 420 100 560 L60 620 C40 650 35 700 40 780 C40 830 20 870 0 890 M130 150 V290 C100 350 50 420 0 470 M45 60 C40 100 60 130 100 140 C170 140 240 110 300 80 M100 0 C100 40 120 60 150 65 M90 205 C60 260 30 310 0 350 M240 45 L300 25 M400 20 C400 50 430 60 500 55 L540 5"/>
<path d="M555 805 C525 800 505 835 525 860 M240 960 C210 955 190 990 210 1015 M490 955 C460 950 440 985 460 1010 M355 1065 C325 1060 305 1095 325 1120"/>
<path d="M350 1190 C280 1200 235 1280 245 1350 C255 1400 290 1420 320 1410 M350 1190 C400 1195 430 1240 425 1300 M380 1215 C320 1220 270 1290 280 1350 C290 1390 320 1400 350 1385 C390 1360 410 1300 400 1250 M365 1240 C320 1250 285 1300 295 1350 C300 1375 325 1380 345 1370 M355 1275 C325 1270 305 1300 315 1325 C325 1340 345 1335 350 1330"/>
<path d="M440 1325 C440 1300 495 1300 495 1325 V1470 C495 1485 440 1485 440 1470 Z M440 1335 C455 1345 480 1345 495 1335"/>
<path d="M420 1470 V1520 L465 1550 L560 1500 V1430 L520 1405 M465 1490 V1550 M465 1490 L560 1440 M350 1415 L385 1430 V1380 M340 1520 L420 1475 M340 1520 L345 1540 L475 1620 L600 1550 M475 1600 V1620 M340 1520 L475 1600 L565 1555 M565 1470 L605 1510 V1535 L790 1430 L730 1400 M565 1450 L700 1385 M575 1470 L720 1400"/>
<path d="M510 1305 L545 1295 M560 1310 C575 1340 560 1380 530 1400 M545 1300 C555 1340 545 1380 520 1395 M295 1440 L290 1545"/>
<path d="M0 1490 L185 1475 M0 1525 L205 1510 M0 1565 L35 1560 L160 1610 L280 1690 H345 L475 1615 M195 1620 L300 1680 M0 1600 L280 1690"/>
<path d="M100 1790 L300 1895 C330 1905 360 1900 380 1890 L1290 1360 C1380 1300 1440 1200 1455 1160 M0 1745 L100 1720 V1960 L0 2010 M0 1680 L100 1720 M0 2050 L15 2045 V2100 L0 2105 M1130 1225 L1240 1160"/>
<path d="M1405 0 L1395 80 C1380 140 1300 200 1285 260 C1275 300 1275 400 1275 480 M1495 0 L1490 70 C1470 150 1380 240 1370 320 V480"/>
<path d="M1240 510 C1260 540 1380 540 1410 510 M1235 540 C1255 570 1385 570 1415 540 M1225 565 C1250 600 1390 600 1415 565 M1235 520 V560 M1410 500 L1415 560 M1400 480 L1420 520 M1235 520 C1240 490 1270 480 1300 480"/>
<path d="M1270 600 V750 M1380 600 L1385 740 M1240 760 C1260 790 1380 790 1410 760 M1235 785 C1255 815 1385 815 1415 785 M1230 810 C1250 845 1390 845 1415 810 M1215 830 L1235 820 M1260 850 L1265 940"/>
<path d="M1230 580 C1200 600 1195 660 1220 700 M1250 590 C1225 610 1220 670 1240 710 M1270 610 C1255 640 1255 680 1265 700"/>
<path d="M1560 0 L1555 60 C1550 100 1460 280 1440 380 L1430 830 M1650 80 C1640 150 1550 300 1530 420 C1520 500 1525 700 1520 830 M1555 55 C1580 85 1620 90 1650 85 M1425 15 C1445 35 1480 35 1495 15"/>
<path d="M1390 365 C1410 380 1410 410 1390 420 M1600 370 C1630 370 1640 400 1620 415 C1600 425 1580 415 1570 405 M1610 335 C1630 340 1645 350 1650 360 M1540 440 L1650 495 M1545 555 C1570 520 1610 500 1650 490 M1610 490 L1625 510"/>
<path d="M1395 850 C1420 880 1520 880 1560 850 M1400 875 C1425 905 1525 905 1560 875 M1410 900 C1440 930 1510 930 1540 905 M1550 820 L1570 825 V860"/>
<path d="M1265 960 L1320 935 L1330 950 L1285 975 V1020 L1260 1030 Z M1260 1030 L1265 1160 L1310 1170 V1190 L1340 1200 L1370 1190 L1450 1160 M1260 1120 L1285 1130 V1160 M1320 1150 L1345 1160 V1195 M1330 1060 C1330 1100 1340 1130 1350 1150 M1385 1070 C1420 1040 1470 1020 1510 1010 M1295 985 L1320 1000 M1300 975 L1325 990 M1400 900 C1390 920 1400 940 1420 950"/>
<path d="M1510 1010 L1525 1040 L1515 1090 C1530 1100 1525 1120 1505 1115 L1470 1135 M1500 1010 C1520 1000 1530 1020 1515 1030 M1520 830 C1560 780 1560 700 1540 640 M1550 650 L1650 700 M1540 800 L1650 650 M1650 860 L1520 1040 M1630 930 L1650 940"/>
<path d="M1210 825 C1200 900 1200 1000 1215 1080 L1260 1100 M1415 2085 L1650 2070"/>
</g>

<!-- ===== engine sliver E : 740,330 at 4.0115x ===== -->
<g id="engE" transform="translate(740 330) scale(0.24928)">
<path d="M338 700 V1007 M240 850 C255 875 320 880 340 855 M245 990 C265 1015 320 1015 338 995 M90 815 C105 835 165 838 185 815 M92 955 C110 975 165 975 185 955"/>
<path d="M358 1195 C358 1165 438 1165 438 1195 V1370 C438 1392 358 1392 358 1370 Z M358 1200 C375 1222 420 1222 438 1200"/>
<path d="M605 1340 C605 1310 690 1310 690 1340 V1515 C690 1540 605 1540 605 1515 Z M605 1345 C625 1368 670 1368 690 1345"/>
<path d="M240 1365 L525 1530 M560 1545 L635 1585 L755 1515 L695 1485 M305 1255 L350 1280 M455 1340 L590 1420"/>
<path d="M310 1300 C340 1310 330 1345 295 1350 C275 1350 260 1340 255 1335 M540 1465 C520 1475 525 1500 560 1505 L600 1503"/>
<path d="M635 1585 V1820 M755 1515 V1755 L635 1820 L575 1790 M455 1490 V1665 L440 1670 M235 1480 L310 1410 M245 1740 L450 1490 M330 1410 L455 1490"/>
<path d="M320 1860 L530 1980 L670 1905 V1830 L690 1820 V1805 M330 1835 L500 1930 L540 1830 M500 1930 L530 1935 V1980 M530 1935 L630 1880 M600 1800 L690 1810 M215 1950 L400 1700"/>
</g>

</svg>
</body></html>
